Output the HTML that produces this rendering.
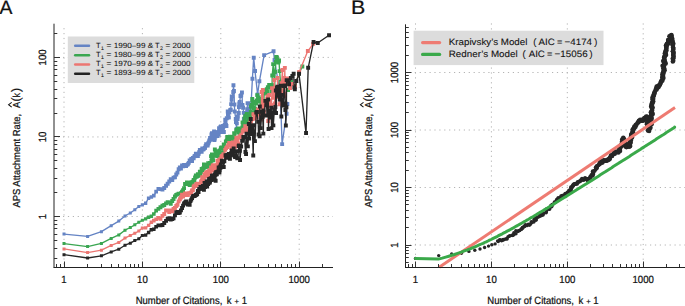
<!DOCTYPE html>
<html><head><meta charset="utf-8"><style>
html,body{margin:0;padding:0;background:#fff;width:685px;height:306px;overflow:hidden}
svg{display:block}
</style></head><body>
<svg width="685" height="306" viewBox="0 0 685 306" text-rendering="geometricPrecision">
<rect width="685" height="306" fill="#fff"/>
<line x1="64" y1="28.1" x2="64" y2="267" stroke="#b4b4b4" stroke-width="1" stroke-dasharray="1.2 3.7"/>
<line x1="415.5" y1="23.4" x2="415.5" y2="267" stroke="#b4b4b4" stroke-width="1" stroke-dasharray="1.2 3.7"/>
<line x1="142.4" y1="28.1" x2="142.4" y2="267" stroke="#b4b4b4" stroke-width="1" stroke-dasharray="1.2 3.7"/>
<line x1="491.4" y1="23.4" x2="491.4" y2="267" stroke="#b4b4b4" stroke-width="1" stroke-dasharray="1.2 3.7"/>
<line x1="220.8" y1="28.1" x2="220.8" y2="267" stroke="#b4b4b4" stroke-width="1" stroke-dasharray="1.2 3.7"/>
<line x1="567.3" y1="23.4" x2="567.3" y2="267" stroke="#b4b4b4" stroke-width="1" stroke-dasharray="1.2 3.7"/>
<line x1="299.2" y1="28.1" x2="299.2" y2="267" stroke="#b4b4b4" stroke-width="1" stroke-dasharray="1.2 3.7"/>
<line x1="643.2" y1="23.4" x2="643.2" y2="267" stroke="#b4b4b4" stroke-width="1" stroke-dasharray="1.2 3.7"/>
<line x1="58.1" y1="216.5" x2="333" y2="216.5" stroke="#b4b4b4" stroke-width="1" stroke-dasharray="1.2 3.7"/>
<line x1="58.1" y1="136.95" x2="333" y2="136.95" stroke="#b4b4b4" stroke-width="1" stroke-dasharray="1.2 3.7"/>
<line x1="58.1" y1="57.4" x2="333" y2="57.4" stroke="#b4b4b4" stroke-width="1" stroke-dasharray="1.2 3.7"/>
<line x1="405" y1="245" x2="685" y2="245" stroke="#b4b4b4" stroke-width="1" stroke-dasharray="1.2 3.7"/>
<line x1="405" y1="187.5" x2="685" y2="187.5" stroke="#b4b4b4" stroke-width="1" stroke-dasharray="1.2 3.7"/>
<line x1="405" y1="130" x2="685" y2="130" stroke="#b4b4b4" stroke-width="1" stroke-dasharray="1.2 3.7"/>
<line x1="405" y1="72.5" x2="685" y2="72.5" stroke="#b4b4b4" stroke-width="1" stroke-dasharray="1.2 3.7"/>
<polyline fill="none" stroke="#6584c4" stroke-width="1.35" stroke-linejoin="round" stroke-linecap="round" points="64,234.1 87.6,236.4 101.4,231.7 111.2,225.7 118.8,221.1 125,215.9 130.3,213 134.8,209.8 138.8,206.5 142.4,204.8 145.6,203.3 148.6,198.2 151.3,197.1 153.9,195.6 156.2,191.6 158.4,189 160.5,189.2 162.4,189.5 164.3,188 166,185.8 167.7,183.7 169.2,181.5 170.8,179.2 172.2,180.1 173.6,177.7 174.9,177.3 176.2,174.4 177.5,172.6 178.7,169.2 179.8,167.6 180.9,168.4 182,165.6 183.1,166.2 184.1,164.8 185.1,165.8 186,166.2 186.9,164.8 187.9,164.3 188.7,162.8 189.6,160.5 190.4,160.9 191.3,159 192.1,160.9 192.8,158 193.6,158.3 194.4,156.3 195.1,155.8 195.8,153.8 196.5,155.6 197.2,154.1 197.9,155.9 198.5,154.1 199.2,152.2 199.8,149.9 200.4,151.3 201.1,150.2 201.7,151.8 202.3,148.4 202.8,149.6 203.4,149.3 204,148.6 204.5,148.2 205.1,147.7 205.6,145.8 206.1,144.1 206.7,144.2 207.2,145 207.7,145.6 208.2,143.5 208.7,142.7 209.1,141.1 209.6,139.9 210.1,137.9 210.5,138.3 211,139.6 211.5,134.5 211.9,133.2 212.3,138.7 212.8,134.7 213.2,136.2 213.6,136 214,131.5 214.5,139.9 214.9,138.6 215.3,134.9 215.7,136.4 216.1,134.8 216.4,132.2 216.8,133.8 217.2,134.6 217.6,136 218,134.4 218.3,132 218.7,134.6 219.1,128.2 219.4,131.4 219.8,130.4 220.5,126.9 220.8,126.6 221.5,126.9 222,132 222.4,128.1 223.1,125.9 223.3,126.9 223.8,132 224.6,125.1 225.2,119.8 225.4,121.1 226,124.9 226.4,126 226.8,118.3 227.8,111.4 228,114 228.5,117.6 228.8,117.3 229.3,112.6 230.2,110.1 230.7,109.7 231.2,104.1 231.6,99.8 231.8,96.4 232.3,96.3 233.3,91.9 233.4,85.2 234,91.1 234.4,104.6 234.7,111.6 235.8,119.1 236,122 236.6,129.1 236.8,123.3 237.6,119 237.8,116.5 238.8,113 238.9,107.2 239.3,103.4 239.7,101.8 240.4,96.1 241.2,95.2 242,92.5 242.4,105.1 243.1,107.8 243.7,112.8 243.8,119.1 244.7,124.2 245.5,129.4 246,121.7 246,119.2 246.7,113.2 247.1,109.2 247.5,103.1 248.6,103.2 249.3,109.1 250.3,120.1 250.5,113 251,106.1 252.4,78.7 253.7,57.8 255,70.9 257.6,94.4 259.4,81.3 264.1,55.2 273.5,51.3 274.5,60 280.4,95 282.1,144.2 286.5,113.8 287.4,104"/>
<path fill="#6584c4" d="M62.5 232.6h3v3h-3zM86.1 234.9h3v3h-3zM99.9 230.2h3v3h-3zM109.7 224.2h3v3h-3zM117.3 219.6h3v3h-3zM123.5 214.4h3v3h-3zM128.8 211.5h3v3h-3zM133.3 208.3h3v3h-3zM137.3 205h3v3h-3zM140.8 203.3h3.1v3.1h-3.1zM144 201.6h3.3v3.3h-3.3zM146.9 196.5h3.4v3.4h-3.4zM149.6 195.3h3.5v3.5h-3.5zM152 193.8h3.6v3.6h-3.6zM154.3 189.7h3.7v3.7h-3.7zM156.5 187h3.8v3.8h-3.8zM158.5 187.2h3.9v3.9h-3.9zM160.5 187.6h3.9v3.9h-3.9zM162.3 186.1h3.9v3.9h-3.9zM164.1 183.8h3.9v3.9h-3.9zM165.7 181.8h3.9v3.9h-3.9zM167.3 179.5h3.9v3.9h-3.9zM168.8 177.2h3.9v3.9h-3.9zM170.3 178.1h3.9v3.9h-3.9zM171.6 175.7h3.9v3.9h-3.9zM173 175.3h3.9v3.9h-3.9zM174.3 172.5h3.9v3.9h-3.9zM175.5 170.7h3.9v3.9h-3.9zM176.7 167.3h3.9v3.9h-3.9zM177.9 165.6h3.9v3.9h-3.9zM179 166.5h3.9v3.9h-3.9zM180.1 163.6h3.9v3.9h-3.9zM181.1 164.3h3.9v3.9h-3.9zM182.1 162.9h3.9v3.9h-3.9zM183.1 163.9h3.9v3.9h-3.9zM184.1 164.2h3.9v3.9h-3.9zM185 162.9h3.9v3.9h-3.9zM185.9 162.3h3.9v3.9h-3.9zM186.8 160.9h3.9v3.9h-3.9zM187.7 158.6h3.9v3.9h-3.9zM188.5 158.9h3.9v3.9h-3.9zM189.3 157.1h3.9v3.9h-3.9zM190.1 159h3.9v3.9h-3.9zM190.9 156h3.9v3.9h-3.9zM191.7 156.3h3.9v3.9h-3.9zM192.4 154.4h3.9v3.9h-3.9zM193.1 153.9h3.9v3.9h-3.9zM193.9 151.8h3.9v3.9h-3.9zM194.6 153.6h3.9v3.9h-3.9zM195.2 152.2h3.9v3.9h-3.9zM195.9 154h3.9v3.9h-3.9zM196.6 152.1h3.9v3.9h-3.9zM197.2 150.3h3.9v3.9h-3.9zM197.9 148h3.9v3.9h-3.9zM198.5 149.4h3.9v3.9h-3.9zM199.1 148.3h3.9v3.9h-3.9zM199.7 149.8h3.9v3.9h-3.9zM200.3 146.4h3.9v3.9h-3.9zM200.9 147.7h3.9v3.9h-3.9zM201.5 147.3h3.9v3.9h-3.9zM202 146.7h3.9v3.9h-3.9zM202.6 146.2h3.9v3.9h-3.9zM203.1 145.8h3.9v3.9h-3.9zM203.7 143.9h3.9v3.9h-3.9zM204.2 142.2h3.9v3.9h-3.9zM204.7 142.3h3.9v3.9h-3.9zM205.2 143h3.9v3.9h-3.9zM205.7 143.7h3.9v3.9h-3.9zM206.2 141.5h3.9v3.9h-3.9zM206.7 140.7h3.9v3.9h-3.9zM207.2 139.2h3.9v3.9h-3.9zM207.7 138h3.9v3.9h-3.9zM208.1 135.9h3.9v3.9h-3.9zM208.6 136.3h3.9v3.9h-3.9zM209.1 137.7h3.9v3.9h-3.9zM209.5 132.6h3.9v3.9h-3.9zM210 131.3h3.9v3.9h-3.9zM210.4 136.7h3.9v3.9h-3.9zM210.8 132.7h3.9v3.9h-3.9zM211.3 134.3h3.9v3.9h-3.9zM211.7 134.1h3.9v3.9h-3.9zM212.1 129.5h3.9v3.9h-3.9zM212.5 138h3.9v3.9h-3.9zM212.9 136.6h3.9v3.9h-3.9zM213.3 133h3.9v3.9h-3.9zM213.7 134.4h3.9v3.9h-3.9zM214.1 132.9h3.9v3.9h-3.9zM214.5 130.2h3.9v3.9h-3.9zM214.9 131.8h3.9v3.9h-3.9zM215.3 132.7h3.9v3.9h-3.9zM215.6 134.1h3.9v3.9h-3.9zM216 132.5h3.9v3.9h-3.9zM216.4 130.1h3.9v3.9h-3.9zM216.7 132.6h3.9v3.9h-3.9zM217.1 126.2h3.9v3.9h-3.9zM217.5 129.5h3.9v3.9h-3.9zM217.8 128.4h3.9v3.9h-3.9zM218.5 125h3.9v3.9h-3.9zM218.9 124.6h3.9v3.9h-3.9zM219.6 124.9h3.9v3.9h-3.9zM220.1 130.1h3.9v3.9h-3.9zM220.5 126.1h3.9v3.9h-3.9zM221.1 124h3.9v3.9h-3.9zM221.4 124.9h3.9v3.9h-3.9zM221.9 130.1h3.9v3.9h-3.9zM222.7 123.1h3.9v3.9h-3.9zM223.3 117.8h3.9v3.9h-3.9zM223.4 119.2h3.9v3.9h-3.9zM224 122.9h3.9v3.9h-3.9zM224.5 124h3.9v3.9h-3.9zM224.8 116.3h3.9v3.9h-3.9zM225.8 109.5h3.9v3.9h-3.9zM226 112h3.9v3.9h-3.9zM226.5 115.7h3.9v3.9h-3.9zM226.9 115.4h3.9v3.9h-3.9zM227.4 110.6h3.9v3.9h-3.9zM228.2 108.2h3.9v3.9h-3.9zM228.8 107.8h3.9v3.9h-3.9zM229.2 102.2h3.9v3.9h-3.9zM229.7 97.8h3.9v3.9h-3.9zM229.8 94.5h3.9v3.9h-3.9zM230.4 94.4h3.9v3.9h-3.9zM231.3 90h3.9v3.9h-3.9zM231.5 83.3h3.9v3.9h-3.9zM232 89.1h3.9v3.9h-3.9zM232.5 102.6h3.9v3.9h-3.9zM232.8 109.6h3.9v3.9h-3.9zM233.8 117.1h3.9v3.9h-3.9zM234 120h3.9v3.9h-3.9zM234.7 127.1h3.9v3.9h-3.9zM234.9 121.4h3.9v3.9h-3.9zM235.6 117.1h3.9v3.9h-3.9zM235.9 114.6h3.9v3.9h-3.9zM236.8 111h3.9v3.9h-3.9zM237 105.2h3.9v3.9h-3.9zM237.3 101.5h3.9v3.9h-3.9zM237.8 99.9h3.9v3.9h-3.9zM238.5 94.1h3.9v3.9h-3.9zM239.3 93.3h3.9v3.9h-3.9zM240 90.6h3.9v3.9h-3.9zM240.5 103.1h3.9v3.9h-3.9zM241.1 105.8h3.9v3.9h-3.9zM241.8 110.9h3.9v3.9h-3.9zM241.9 117.1h3.9v3.9h-3.9zM242.8 122.3h3.9v3.9h-3.9zM243.5 127.4h3.9v3.9h-3.9zM244 119.8h3.9v3.9h-3.9zM244.1 117.3h3.9v3.9h-3.9zM244.7 111.2h3.9v3.9h-3.9zM245.2 107.3h3.9v3.9h-3.9zM245.6 101.2h3.9v3.9h-3.9zM246.6 101.2h3.9v3.9h-3.9zM247.4 107.1h3.9v3.9h-3.9zM248.3 118.2h3.9v3.9h-3.9zM248.6 111.1h3.9v3.9h-3.9zM249.1 104.1h3.9v3.9h-3.9zM250.5 76.8h3.9v3.9h-3.9zM251.8 55.8h3.9v3.9h-3.9zM253.1 69h3.9v3.9h-3.9zM255.7 92.5h3.9v3.9h-3.9zM257.4 79.3h3.9v3.9h-3.9zM262.2 53.2h3.9v3.9h-3.9zM271.6 49.3h3.9v3.9h-3.9zM272.6 58h3.9v3.9h-3.9zM278.4 93h3.9v3.9h-3.9zM280.2 142.2h3.9v3.9h-3.9zM284.6 111.8h3.9v3.9h-3.9zM285.4 102h3.9v3.9h-3.9z"/>
<polyline fill="none" stroke="#3aa651" stroke-width="1.35" stroke-linejoin="round" stroke-linecap="round" points="64,243.6 87.6,246.6 101.4,243.4 111.2,238.4 118.8,234.9 125,230.2 130.3,227.5 134.8,224.8 138.8,222.2 142.4,220.3 145.6,218.9 148.6,217.2 151.3,216.2 153.9,214 156.2,210.6 158.4,208.9 160.5,207.2 162.4,205.8 164.3,205.1 166,203.3 167.7,202.2 169.2,202.5 170.8,203.7 172.2,200.9 173.6,198.9 174.9,196.5 176.2,194.8 177.5,194.3 178.7,193.6 179.8,193.7 180.9,193.3 182,191.6 183.1,190.2 184.1,188.2 185.1,183.9 186,183.8 186.9,182.3 187.9,182.9 188.7,184 189.6,185.2 190.4,184.9 191.3,182.3 192.1,184.7 192.8,181.7 193.6,179.9 194.4,180 195.1,177.5 195.8,175.5 196.5,176.8 197.2,176.1 197.9,174.2 198.5,175.8 199.2,174.5 199.8,171.7 200.4,174.8 201.1,171.9 201.7,168.9 202.3,170.1 202.8,168.6 203.4,168.8 204,164.5 204.5,167.7 205.1,167.2 205.6,166.5 206.1,166.1 206.7,167.2 207.2,166.1 207.7,165 208.2,163.1 208.7,166.4 209.1,165.8 209.6,163.9 210.1,163 210.5,163.3 211,156.3 211.5,160.8 211.9,154.4 212.3,158.8 212.8,159.5 213.2,160.4 213.6,154.8 214,155.9 214.5,154.3 214.9,149.4 215.3,155.4 215.7,153.6 216.1,153.6 216.4,151.3 216.8,153.2 217.2,153.5 217.6,156.1 218,153.9 218.3,161.2 218.7,152.2 219.1,152.4 219.4,152.7 219.8,150.6 220.1,155.7 220.5,153.2 220.8,148.2 221.5,147.4 222.5,147.9 223.1,152.3 223.7,144.4 224.4,146.5 225.9,141.3 226.7,140.4 227.3,136.9 227.8,140.8 228.9,145.2 229.5,142.4 230,136.8 230.8,143.2 231.8,136.8 233.2,142.7 234.1,133.2 235.1,140.4 236.3,130.2 236.8,129.8 236.8,130.6 237.4,130 238.2,128.4 238.4,132.5 239.1,131.6 239.8,129.3 240.1,134 240.6,130.9 240.9,130.1 241.5,130.7 242.3,127.6 242.5,122.5 243.1,124.6 243.8,124 243.9,124.7 244.6,118.3 244.8,121 245.3,116 245.7,115.6 246.8,113.9 247,116.5 247.6,121.8 248.2,124.5 248.5,129.4 248.9,122.5 249.5,118.9 250.1,115.4 250.8,111.9 250.9,106.6 251.8,104.6 252.3,100 252.3,98.9 253.2,103.4 253.4,107.7 253.9,108.4 254.2,112.8 255,108.6 255.3,101.9 256.1,103.5 256.7,100.5 257.3,95.2 257.5,100.4 258,97.4 258.6,100.7 259,101.7 259.4,98.9 260.2,100.9 260.8,99.5 260.7,100.5 261.4,104 261.8,100.8 262.4,97.2 262.7,97.4 263.3,93 263.8,90.6 264.3,91 264.9,91.4 265.3,93 265.9,93.7 266.7,89.3 266.7,89.2 267.2,92 267.8,87.2 268.7,87.4 269.1,84.9 269.3,85.6 269.9,86.7 270.3,84.9 271.2,87.7 271.5,91.6 272.1,85.2 272.2,75.5 273.2,64.1 274.1,72.1 274.7,88.2 275.1,71.8 275.9,61.8 276.2,56.9 276.9,57.4 277.7,60.3 278.2,62.7 278.7,61.5 279,60.5 279.6,71.1 280.5,82 282,90 285,86 288,90 291,82 295,86 299,73.5 302.4,66.4"/>
<path fill="#3aa651" d="M62.5 242.1h3v3h-3zM86.1 245.1h3v3h-3zM99.9 241.9h3v3h-3zM109.7 236.9h3v3h-3zM117.3 233.4h3v3h-3zM123.5 228.7h3v3h-3zM128.8 226h3v3h-3zM133.3 223.3h3v3h-3zM137.3 220.7h3v3h-3zM140.8 218.7h3.1v3.1h-3.1zM144 217.3h3.3v3.3h-3.3zM146.9 215.5h3.4v3.4h-3.4zM149.6 214.4h3.5v3.5h-3.5zM152 212.2h3.6v3.6h-3.6zM154.3 208.7h3.7v3.7h-3.7zM156.5 207h3.8v3.8h-3.8zM158.5 205.3h3.9v3.9h-3.9zM160.5 203.8h3.9v3.9h-3.9zM162.3 203.1h3.9v3.9h-3.9zM164.1 201.4h3.9v3.9h-3.9zM165.7 200.3h3.9v3.9h-3.9zM167.3 200.5h3.9v3.9h-3.9zM168.8 201.8h3.9v3.9h-3.9zM170.3 199h3.9v3.9h-3.9zM171.6 197h3.9v3.9h-3.9zM173 194.5h3.9v3.9h-3.9zM174.3 192.9h3.9v3.9h-3.9zM175.5 192.4h3.9v3.9h-3.9zM176.7 191.7h3.9v3.9h-3.9zM177.9 191.7h3.9v3.9h-3.9zM179 191.3h3.9v3.9h-3.9zM180.1 189.7h3.9v3.9h-3.9zM181.1 188.3h3.9v3.9h-3.9zM182.1 186.2h3.9v3.9h-3.9zM183.1 182h3.9v3.9h-3.9zM184.1 181.9h3.9v3.9h-3.9zM185 180.4h3.9v3.9h-3.9zM185.9 180.9h3.9v3.9h-3.9zM186.8 182.1h3.9v3.9h-3.9zM187.7 183.2h3.9v3.9h-3.9zM188.5 182.9h3.9v3.9h-3.9zM189.3 180.3h3.9v3.9h-3.9zM190.1 182.8h3.9v3.9h-3.9zM190.9 179.8h3.9v3.9h-3.9zM191.7 178h3.9v3.9h-3.9zM192.4 178.1h3.9v3.9h-3.9zM193.1 175.5h3.9v3.9h-3.9zM193.9 173.5h3.9v3.9h-3.9zM194.6 174.9h3.9v3.9h-3.9zM195.2 174.2h3.9v3.9h-3.9zM195.9 172.2h3.9v3.9h-3.9zM196.6 173.9h3.9v3.9h-3.9zM197.2 172.5h3.9v3.9h-3.9zM197.9 169.8h3.9v3.9h-3.9zM198.5 172.8h3.9v3.9h-3.9zM199.1 169.9h3.9v3.9h-3.9zM199.7 167h3.9v3.9h-3.9zM200.3 168.2h3.9v3.9h-3.9zM200.9 166.6h3.9v3.9h-3.9zM201.5 166.9h3.9v3.9h-3.9zM202 162.5h3.9v3.9h-3.9zM202.6 165.7h3.9v3.9h-3.9zM203.1 165.2h3.9v3.9h-3.9zM203.7 164.5h3.9v3.9h-3.9zM204.2 164.2h3.9v3.9h-3.9zM204.7 165.2h3.9v3.9h-3.9zM205.2 164.1h3.9v3.9h-3.9zM205.7 163h3.9v3.9h-3.9zM206.2 161.2h3.9v3.9h-3.9zM206.7 164.4h3.9v3.9h-3.9zM207.2 163.8h3.9v3.9h-3.9zM207.7 162h3.9v3.9h-3.9zM208.1 161h3.9v3.9h-3.9zM208.6 161.4h3.9v3.9h-3.9zM209.1 154.3h3.9v3.9h-3.9zM209.5 158.9h3.9v3.9h-3.9zM210 152.4h3.9v3.9h-3.9zM210.4 156.8h3.9v3.9h-3.9zM210.8 157.6h3.9v3.9h-3.9zM211.3 158.4h3.9v3.9h-3.9zM211.7 152.8h3.9v3.9h-3.9zM212.1 153.9h3.9v3.9h-3.9zM212.5 152.4h3.9v3.9h-3.9zM212.9 147.5h3.9v3.9h-3.9zM213.3 153.4h3.9v3.9h-3.9zM213.7 151.6h3.9v3.9h-3.9zM214.1 151.6h3.9v3.9h-3.9zM214.5 149.3h3.9v3.9h-3.9zM214.9 151.3h3.9v3.9h-3.9zM215.3 151.5h3.9v3.9h-3.9zM215.6 154.2h3.9v3.9h-3.9zM216 151.9h3.9v3.9h-3.9zM216.4 159.2h3.9v3.9h-3.9zM216.7 150.2h3.9v3.9h-3.9zM217.1 150.4h3.9v3.9h-3.9zM217.5 150.7h3.9v3.9h-3.9zM217.8 148.6h3.9v3.9h-3.9zM218.2 153.8h3.9v3.9h-3.9zM218.5 151.3h3.9v3.9h-3.9zM218.9 146.2h3.9v3.9h-3.9zM219.5 145.4h3.9v3.9h-3.9zM220.5 146h3.9v3.9h-3.9zM221.2 150.4h3.9v3.9h-3.9zM221.8 142.4h3.9v3.9h-3.9zM222.4 144.6h3.9v3.9h-3.9zM223.9 139.4h3.9v3.9h-3.9zM224.8 138.5h3.9v3.9h-3.9zM225.3 135h3.9v3.9h-3.9zM225.9 138.8h3.9v3.9h-3.9zM227 143.2h3.9v3.9h-3.9zM227.5 140.4h3.9v3.9h-3.9zM228 134.8h3.9v3.9h-3.9zM228.8 141.2h3.9v3.9h-3.9zM229.8 134.9h3.9v3.9h-3.9zM231.3 140.8h3.9v3.9h-3.9zM232.2 131.2h3.9v3.9h-3.9zM233.1 138.4h3.9v3.9h-3.9zM234.3 128.3h3.9v3.9h-3.9zM234.8 127.8h3.9v3.9h-3.9zM234.9 128.6h3.9v3.9h-3.9zM235.5 128h3.9v3.9h-3.9zM236.3 126.5h3.9v3.9h-3.9zM236.4 130.6h3.9v3.9h-3.9zM237.1 129.6h3.9v3.9h-3.9zM237.8 127.4h3.9v3.9h-3.9zM238.2 132h3.9v3.9h-3.9zM238.6 129h3.9v3.9h-3.9zM238.9 128.1h3.9v3.9h-3.9zM239.6 128.8h3.9v3.9h-3.9zM240.3 125.6h3.9v3.9h-3.9zM240.6 120.5h3.9v3.9h-3.9zM241.2 122.7h3.9v3.9h-3.9zM241.8 122h3.9v3.9h-3.9zM241.9 122.8h3.9v3.9h-3.9zM242.6 116.4h3.9v3.9h-3.9zM242.8 119.1h3.9v3.9h-3.9zM243.4 114.1h3.9v3.9h-3.9zM243.8 113.7h3.9v3.9h-3.9zM244.8 112h3.9v3.9h-3.9zM245.1 114.5h3.9v3.9h-3.9zM245.6 119.9h3.9v3.9h-3.9zM246.3 122.5h3.9v3.9h-3.9zM246.6 127.4h3.9v3.9h-3.9zM246.9 120.5h3.9v3.9h-3.9zM247.5 117h3.9v3.9h-3.9zM248.2 113.4h3.9v3.9h-3.9zM248.8 109.9h3.9v3.9h-3.9zM249 104.7h3.9v3.9h-3.9zM249.8 102.7h3.9v3.9h-3.9zM250.3 98h3.9v3.9h-3.9zM250.3 96.9h3.9v3.9h-3.9zM251.3 101.4h3.9v3.9h-3.9zM251.5 105.7h3.9v3.9h-3.9zM251.9 106.4h3.9v3.9h-3.9zM252.3 110.8h3.9v3.9h-3.9zM253.1 106.7h3.9v3.9h-3.9zM253.4 100h3.9v3.9h-3.9zM254.2 101.5h3.9v3.9h-3.9zM254.7 98.5h3.9v3.9h-3.9zM255.3 93.2h3.9v3.9h-3.9zM255.5 98.4h3.9v3.9h-3.9zM256.1 95.4h3.9v3.9h-3.9zM256.7 98.7h3.9v3.9h-3.9zM257 99.7h3.9v3.9h-3.9zM257.5 96.9h3.9v3.9h-3.9zM258.2 98.9h3.9v3.9h-3.9zM258.8 97.5h3.9v3.9h-3.9zM258.8 98.6h3.9v3.9h-3.9zM259.5 102h3.9v3.9h-3.9zM259.9 98.8h3.9v3.9h-3.9zM260.4 95.2h3.9v3.9h-3.9zM260.8 95.4h3.9v3.9h-3.9zM261.3 91.1h3.9v3.9h-3.9zM261.9 88.6h3.9v3.9h-3.9zM262.4 89.1h3.9v3.9h-3.9zM262.9 89.4h3.9v3.9h-3.9zM263.4 91h3.9v3.9h-3.9zM264 91.7h3.9v3.9h-3.9zM264.8 87.3h3.9v3.9h-3.9zM264.8 87.3h3.9v3.9h-3.9zM265.3 90.1h3.9v3.9h-3.9zM265.9 85.2h3.9v3.9h-3.9zM266.7 85.5h3.9v3.9h-3.9zM267.2 82.9h3.9v3.9h-3.9zM267.4 83.6h3.9v3.9h-3.9zM267.9 84.8h3.9v3.9h-3.9zM268.3 82.9h3.9v3.9h-3.9zM269.3 85.7h3.9v3.9h-3.9zM269.5 89.6h3.9v3.9h-3.9zM270.1 83.2h3.9v3.9h-3.9zM270.3 73.5h3.9v3.9h-3.9zM271.2 62.2h3.9v3.9h-3.9zM272.1 70.1h3.9v3.9h-3.9zM272.8 86.2h3.9v3.9h-3.9zM273.1 69.9h3.9v3.9h-3.9zM274 59.9h3.9v3.9h-3.9zM274.3 55h3.9v3.9h-3.9zM275 55.5h3.9v3.9h-3.9zM275.7 58.3h3.9v3.9h-3.9zM276.3 60.7h3.9v3.9h-3.9zM276.8 59.6h3.9v3.9h-3.9zM277.1 58.5h3.9v3.9h-3.9zM277.6 69.2h3.9v3.9h-3.9zM278.6 80h3.9v3.9h-3.9zM280.1 88h3.9v3.9h-3.9zM283.1 84h3.9v3.9h-3.9zM286.1 88h3.9v3.9h-3.9zM289.1 80h3.9v3.9h-3.9zM293.1 84h3.9v3.9h-3.9zM297.1 71.5h3.9v3.9h-3.9zM300.4 64.5h3.9v3.9h-3.9z"/>
<polyline fill="none" stroke="#ec7672" stroke-width="1.35" stroke-linejoin="round" stroke-linecap="round" points="64,248.9 87.6,252.6 101.4,250.2 111.2,245.4 118.8,242.4 125,238.1 130.3,235.4 134.8,233.3 138.8,231 142.4,228 145.6,228 148.6,225.4 151.3,222.2 153.9,220.6 156.2,219.3 158.4,217.9 160.5,218.9 162.4,215.8 164.3,214 166,210.5 167.7,210.4 169.2,212.2 170.8,210.5 172.2,211.2 173.6,209.1 174.9,208 176.2,206 177.5,204.7 178.7,201.4 179.8,199.3 180.9,197.6 182,194.8 183.1,196.6 184.1,195.1 185.1,193.6 186,194.2 186.9,195.2 187.9,194.9 188.7,193.2 189.6,193.5 190.4,192.9 191.3,192.5 192.1,190.4 192.8,190.2 193.6,187 194.4,185.8 195.1,186.1 195.8,185.3 196.5,183.9 197.2,184.2 197.9,183.6 198.5,184.2 199.2,184.6 199.8,183.6 200.4,183.7 201.1,181.7 201.7,180.6 202.3,177.2 202.8,180 203.4,178.6 204,178.4 204.5,174.2 205.1,175.5 205.6,174.8 206.1,172.4 206.7,176.1 207.2,176.3 207.7,172 208.2,174.2 208.7,175.8 209.1,170.4 209.6,173.4 210.1,173.7 210.5,173.6 211,167.4 211.5,167.4 211.9,169.1 212.3,170.4 212.8,165.5 213.2,166.1 213.6,165.1 214,169 214.5,165.6 214.9,167.5 215.3,167.4 215.7,168.1 216.1,166.3 216.4,165.8 216.8,166.9 217.2,165 217.6,160.8 218,161.6 218.3,164 218.7,161.8 219.1,160.2 219.4,160.9 219.8,166.9 220.1,159.3 220.5,160 220.8,159.5 221.5,156.7 222.1,156 222.8,155.7 223.4,154.2 224.4,155.2 225.3,149.8 226.1,148.1 227,147.1 228.1,145.3 229.2,142.9 230.5,144.5 231.3,148.3 231.8,143.8 232.5,145.7 233,142.4 234.1,143.1 235.1,146.9 235.5,141.2 236.4,137.7 237,138.8 237.9,143.4 238.3,143.5 239.5,136.7 240.2,137.4 240.6,136 241.4,134.7 242.7,131.5 243.5,129.7 244.1,130.7 245.2,126.2 246.1,129.8 246.7,129.6 248,131.1 248.7,131.2 249.5,127.1 250.5,121.6 251.4,128.1 252.7,119.1 253.5,114.3 254.6,115.3 255.9,118.3 256.7,116.8 257.9,109.6 259.2,112.3 259.9,114.6 260.2,114 261.2,119.4 261.6,92 262.5,117.2 262.9,90 263.8,112 264.8,102.6 266,104.9 267.1,99.5 267.5,96.6 268.3,121.1 268.8,103.3 269.2,95.1 269.5,100.8 270.8,105 271.3,106 272.1,88.2 273.4,97.7 274,89.6 274.3,80 274.8,103.3 275.3,91.9 276,92.1 276.9,96.2 277.3,96.9 277.6,78 277.8,90.6 278.7,87.7 279.6,104.3 280.4,91.6 281.5,83.1 282.5,70 282.8,93.8 284,93.8 284.1,78 284.5,95.8 284.8,67.9 285,81 286.7,83.6 287.4,78.6 288.3,80.3 290,88 292,84 295,87 299.2,72.1 307.8,51.1 313.2,43.9"/>
<path fill="#ec7672" d="M62.5 247.4h3v3h-3zM86.1 251.1h3v3h-3zM99.9 248.7h3v3h-3zM109.7 243.9h3v3h-3zM117.3 240.9h3v3h-3zM123.5 236.6h3v3h-3zM128.8 233.9h3v3h-3zM133.3 231.8h3v3h-3zM137.3 229.5h3v3h-3zM140.8 226.4h3.1v3.1h-3.1zM144 226.3h3.3v3.3h-3.3zM146.9 223.7h3.4v3.4h-3.4zM149.6 220.4h3.5v3.5h-3.5zM152 218.8h3.6v3.6h-3.6zM154.3 217.4h3.7v3.7h-3.7zM156.5 215.9h3.8v3.8h-3.8zM158.5 216.9h3.9v3.9h-3.9zM160.5 213.9h3.9v3.9h-3.9zM162.3 212h3.9v3.9h-3.9zM164.1 208.5h3.9v3.9h-3.9zM165.7 208.4h3.9v3.9h-3.9zM167.3 210.2h3.9v3.9h-3.9zM168.8 208.5h3.9v3.9h-3.9zM170.3 209.3h3.9v3.9h-3.9zM171.6 207.1h3.9v3.9h-3.9zM173 206h3.9v3.9h-3.9zM174.3 204.1h3.9v3.9h-3.9zM175.5 202.8h3.9v3.9h-3.9zM176.7 199.4h3.9v3.9h-3.9zM177.9 197.3h3.9v3.9h-3.9zM179 195.6h3.9v3.9h-3.9zM180.1 192.8h3.9v3.9h-3.9zM181.1 194.6h3.9v3.9h-3.9zM182.1 193.1h3.9v3.9h-3.9zM183.1 191.6h3.9v3.9h-3.9zM184.1 192.3h3.9v3.9h-3.9zM185 193.2h3.9v3.9h-3.9zM185.9 193h3.9v3.9h-3.9zM186.8 191.2h3.9v3.9h-3.9zM187.7 191.5h3.9v3.9h-3.9zM188.5 190.9h3.9v3.9h-3.9zM189.3 190.6h3.9v3.9h-3.9zM190.1 188.4h3.9v3.9h-3.9zM190.9 188.2h3.9v3.9h-3.9zM191.7 185.1h3.9v3.9h-3.9zM192.4 183.8h3.9v3.9h-3.9zM193.1 184.1h3.9v3.9h-3.9zM193.9 183.4h3.9v3.9h-3.9zM194.6 181.9h3.9v3.9h-3.9zM195.2 182.3h3.9v3.9h-3.9zM195.9 181.7h3.9v3.9h-3.9zM196.6 182.2h3.9v3.9h-3.9zM197.2 182.6h3.9v3.9h-3.9zM197.9 181.7h3.9v3.9h-3.9zM198.5 181.8h3.9v3.9h-3.9zM199.1 179.7h3.9v3.9h-3.9zM199.7 178.7h3.9v3.9h-3.9zM200.3 175.3h3.9v3.9h-3.9zM200.9 178.1h3.9v3.9h-3.9zM201.5 176.6h3.9v3.9h-3.9zM202 176.5h3.9v3.9h-3.9zM202.6 172.3h3.9v3.9h-3.9zM203.1 173.6h3.9v3.9h-3.9zM203.7 172.9h3.9v3.9h-3.9zM204.2 170.4h3.9v3.9h-3.9zM204.7 174.2h3.9v3.9h-3.9zM205.2 174.4h3.9v3.9h-3.9zM205.7 170h3.9v3.9h-3.9zM206.2 172.3h3.9v3.9h-3.9zM206.7 173.8h3.9v3.9h-3.9zM207.2 168.4h3.9v3.9h-3.9zM207.7 171.4h3.9v3.9h-3.9zM208.1 171.8h3.9v3.9h-3.9zM208.6 171.7h3.9v3.9h-3.9zM209.1 165.5h3.9v3.9h-3.9zM209.5 165.4h3.9v3.9h-3.9zM210 167.1h3.9v3.9h-3.9zM210.4 168.4h3.9v3.9h-3.9zM210.8 163.6h3.9v3.9h-3.9zM211.3 164.2h3.9v3.9h-3.9zM211.7 163.2h3.9v3.9h-3.9zM212.1 167.1h3.9v3.9h-3.9zM212.5 163.7h3.9v3.9h-3.9zM212.9 165.6h3.9v3.9h-3.9zM213.3 165.5h3.9v3.9h-3.9zM213.7 166.2h3.9v3.9h-3.9zM214.1 164.4h3.9v3.9h-3.9zM214.5 163.8h3.9v3.9h-3.9zM214.9 165h3.9v3.9h-3.9zM215.3 163h3.9v3.9h-3.9zM215.6 158.8h3.9v3.9h-3.9zM216 159.7h3.9v3.9h-3.9zM216.4 162h3.9v3.9h-3.9zM216.7 159.8h3.9v3.9h-3.9zM217.1 158.2h3.9v3.9h-3.9zM217.5 158.9h3.9v3.9h-3.9zM217.8 165h3.9v3.9h-3.9zM218.2 157.3h3.9v3.9h-3.9zM218.5 158h3.9v3.9h-3.9zM218.9 157.5h3.9v3.9h-3.9zM219.5 154.7h3.9v3.9h-3.9zM220.2 154h3.9v3.9h-3.9zM220.8 153.7h3.9v3.9h-3.9zM221.5 152.3h3.9v3.9h-3.9zM222.4 153.2h3.9v3.9h-3.9zM223.3 147.9h3.9v3.9h-3.9zM224.2 146.2h3.9v3.9h-3.9zM225.1 145.2h3.9v3.9h-3.9zM226.2 143.3h3.9v3.9h-3.9zM227.3 141h3.9v3.9h-3.9zM228.6 142.6h3.9v3.9h-3.9zM229.3 146.3h3.9v3.9h-3.9zM229.8 141.9h3.9v3.9h-3.9zM230.5 143.8h3.9v3.9h-3.9zM231 140.5h3.9v3.9h-3.9zM232.2 141.2h3.9v3.9h-3.9zM233.1 144.9h3.9v3.9h-3.9zM233.6 139.3h3.9v3.9h-3.9zM234.4 135.7h3.9v3.9h-3.9zM235.1 136.9h3.9v3.9h-3.9zM235.9 141.4h3.9v3.9h-3.9zM236.3 141.6h3.9v3.9h-3.9zM237.5 134.7h3.9v3.9h-3.9zM238.3 135.5h3.9v3.9h-3.9zM238.7 134.1h3.9v3.9h-3.9zM239.4 132.7h3.9v3.9h-3.9zM240.7 129.5h3.9v3.9h-3.9zM241.6 127.7h3.9v3.9h-3.9zM242.1 128.8h3.9v3.9h-3.9zM243.3 124.3h3.9v3.9h-3.9zM244.1 127.8h3.9v3.9h-3.9zM244.8 127.6h3.9v3.9h-3.9zM246 129.1h3.9v3.9h-3.9zM246.8 129.3h3.9v3.9h-3.9zM247.5 125.1h3.9v3.9h-3.9zM248.5 119.6h3.9v3.9h-3.9zM249.5 126.2h3.9v3.9h-3.9zM250.7 117.2h3.9v3.9h-3.9zM251.5 112.3h3.9v3.9h-3.9zM252.7 113.4h3.9v3.9h-3.9zM253.9 116.4h3.9v3.9h-3.9zM254.7 114.9h3.9v3.9h-3.9zM255.9 107.6h3.9v3.9h-3.9zM257.3 110.3h3.9v3.9h-3.9zM257.9 112.6h3.9v3.9h-3.9zM258.2 112h3.9v3.9h-3.9zM259.3 117.5h3.9v3.9h-3.9zM259.7 90h3.9v3.9h-3.9zM260.5 115.3h3.9v3.9h-3.9zM260.9 88h3.9v3.9h-3.9zM261.9 110h3.9v3.9h-3.9zM262.8 100.6h3.9v3.9h-3.9zM264 102.9h3.9v3.9h-3.9zM265.1 97.5h3.9v3.9h-3.9zM265.5 94.6h3.9v3.9h-3.9zM266.3 119.1h3.9v3.9h-3.9zM266.9 101.4h3.9v3.9h-3.9zM267.2 93.1h3.9v3.9h-3.9zM267.6 98.8h3.9v3.9h-3.9zM268.8 103h3.9v3.9h-3.9zM269.4 104h3.9v3.9h-3.9zM270.1 86.2h3.9v3.9h-3.9zM271.5 95.8h3.9v3.9h-3.9zM272 87.6h3.9v3.9h-3.9zM272.4 78h3.9v3.9h-3.9zM272.8 101.4h3.9v3.9h-3.9zM273.4 90h3.9v3.9h-3.9zM274.1 90.1h3.9v3.9h-3.9zM275 94.3h3.9v3.9h-3.9zM275.4 95h3.9v3.9h-3.9zM275.7 76h3.9v3.9h-3.9zM275.8 88.7h3.9v3.9h-3.9zM276.8 85.7h3.9v3.9h-3.9zM277.6 102.3h3.9v3.9h-3.9zM278.5 89.7h3.9v3.9h-3.9zM279.6 81.2h3.9v3.9h-3.9zM280.5 68.1h3.9v3.9h-3.9zM280.9 91.9h3.9v3.9h-3.9zM282.1 91.8h3.9v3.9h-3.9zM282.2 76h3.9v3.9h-3.9zM282.5 93.8h3.9v3.9h-3.9zM282.9 65.9h3.9v3.9h-3.9zM283.1 79h3.9v3.9h-3.9zM284.8 81.6h3.9v3.9h-3.9zM285.4 76.6h3.9v3.9h-3.9zM286.4 78.3h3.9v3.9h-3.9zM288.1 86h3.9v3.9h-3.9zM290.1 82h3.9v3.9h-3.9zM293.1 85h3.9v3.9h-3.9zM297.2 70.1h3.9v3.9h-3.9zM305.9 49.1h3.9v3.9h-3.9zM311.2 41.9h3.9v3.9h-3.9z"/>
<polyline fill="none" stroke="#262626" stroke-width="1.35" stroke-linejoin="round" stroke-linecap="round" points="64,254.7 87.6,258 101.4,255.8 111.2,251.9 118.8,249.2 125,245.2 130.3,243.2 134.8,240.6 138.8,238.8 142.4,235.5 145.6,235.1 148.6,232.5 151.3,229.6 153.9,229.3 156.2,226.8 158.4,225.4 160.5,225.3 162.4,225 164.3,223 166,220.9 167.7,219 169.2,218.3 170.8,219.4 172.2,219 173.6,218.4 174.9,215.3 176.2,212.4 177.5,212.1 178.7,213.1 179.8,212.6 180.9,210.4 182,208 183.1,205.7 184.1,203.4 185.1,202.4 186,201.3 186.9,203.4 187.9,204.7 188.7,204.2 189.6,204.8 190.4,201.2 191.3,199.6 192.1,198.1 192.8,196.3 193.6,196 194.4,196 195.1,195.7 195.8,194.9 196.5,194.5 197.2,194.1 197.9,190.9 198.5,192.1 199.2,188.9 199.8,189.2 200.4,187 201.1,188.5 201.7,187.1 202.3,187 202.8,185.9 203.4,187.3 204,189.9 204.5,183 205.1,187 205.6,185.9 206.1,184 206.7,181.4 207.2,186.7 207.7,182.9 208.2,184.2 208.7,180.5 209.1,179.1 209.6,182.8 210.1,181.5 210.5,178.5 211,178.3 211.5,179.9 211.9,176 212.3,175.6 212.8,177.2 213.2,179.6 213.6,179 214,176.9 214.5,179.5 214.9,175 215.3,173.5 215.7,180.7 216.1,172.3 216.4,174.7 216.8,173.9 217.2,172 217.6,171.6 218,172.4 218.3,171.4 218.7,167.5 219.1,168.8 219.4,172.5 219.8,170.2 220.1,166.5 220.5,167.8 220.8,164.4 221.8,160.6 222.8,161.9 223.7,167 224.4,161.3 225.6,155.2 226.1,157.8 227.3,154.9 228.7,153.9 229.5,154 230,158.8 230.5,154.8 231,153.1 231.8,150.4 233,151.9 233.7,148.4 234.1,155.4 234.6,155.9 235.1,157.2 236.2,151.2 237.2,158.3 237.9,158.1 238.7,146.1 239.1,145.3 239.9,150.9 240,160 241.2,146.6 242.1,140.8 243.4,136.9 244.6,137.2 245.4,152 246,154 246.5,133.8 247.8,146.4 248.4,138.4 248.9,123.9 249.2,138.6 249.9,131.9 250.8,118.9 251.3,134.2 252.3,125.6 253.2,155.6 253.7,125.3 255,141.1 256.2,112.5 256.9,112.1 258.2,121.9 258.5,134.6 259.7,136.3 259.8,106.6 260.7,128.1 261.9,111.7 262.7,116.7 263.4,133.6 263.5,110.4 264.3,115.5 265.3,100.8 266.6,105.2 267,115.5 267,104.8 268.2,99.5 268.5,129.1 269,111.9 269.5,111.1 270.1,117.6 271.2,107.8 271.5,128.2 272.5,112.4 273.3,125.4 274.4,109.5 275.3,107.1 275.9,90.5 276,113 276.9,87.7 277.5,86.7 278.2,95.7 279.1,87 279.2,92.5 279.9,99.6 280.7,85.8 281.3,116.5 281.9,94.8 282.8,105.6 283.3,103.9 284.1,86 284.5,85.4 285.4,110 285.4,103.5 285.8,125.5 286.4,107.3 286.6,80.2 287.7,80.3 289,84.3 290.8,77.9 292.3,76.1 293.6,73.7 294.3,87.6 294.9,89.3 296.4,81 299,73.8 306,132.9 308.2,67.8 313.5,42.1 317.7,43 329,35.3"/>
<path fill="#262626" d="M62.5 253.2h3v3h-3zM86.1 256.5h3v3h-3zM99.9 254.3h3v3h-3zM109.7 250.4h3v3h-3zM117.3 247.7h3v3h-3zM123.5 243.7h3v3h-3zM128.8 241.7h3v3h-3zM133.3 239.1h3v3h-3zM137.3 237.3h3v3h-3zM140.8 233.9h3.1v3.1h-3.1zM144 233.5h3.3v3.3h-3.3zM146.9 230.8h3.4v3.4h-3.4zM149.6 227.9h3.5v3.5h-3.5zM152 227.4h3.6v3.6h-3.6zM154.3 224.9h3.7v3.7h-3.7zM156.5 223.5h3.8v3.8h-3.8zM158.5 223.4h3.9v3.9h-3.9zM160.5 223h3.9v3.9h-3.9zM162.3 221h3.9v3.9h-3.9zM164.1 218.9h3.9v3.9h-3.9zM165.7 217h3.9v3.9h-3.9zM167.3 216.3h3.9v3.9h-3.9zM168.8 217.5h3.9v3.9h-3.9zM170.3 217h3.9v3.9h-3.9zM171.6 216.4h3.9v3.9h-3.9zM173 213.4h3.9v3.9h-3.9zM174.3 210.5h3.9v3.9h-3.9zM175.5 210.1h3.9v3.9h-3.9zM176.7 211.2h3.9v3.9h-3.9zM177.9 210.7h3.9v3.9h-3.9zM179 208.4h3.9v3.9h-3.9zM180.1 206h3.9v3.9h-3.9zM181.1 203.7h3.9v3.9h-3.9zM182.1 201.5h3.9v3.9h-3.9zM183.1 200.5h3.9v3.9h-3.9zM184.1 199.4h3.9v3.9h-3.9zM185 201.4h3.9v3.9h-3.9zM185.9 202.7h3.9v3.9h-3.9zM186.8 202.2h3.9v3.9h-3.9zM187.7 202.8h3.9v3.9h-3.9zM188.5 199.2h3.9v3.9h-3.9zM189.3 197.7h3.9v3.9h-3.9zM190.1 196.2h3.9v3.9h-3.9zM190.9 194.4h3.9v3.9h-3.9zM191.7 194.1h3.9v3.9h-3.9zM192.4 194h3.9v3.9h-3.9zM193.1 193.7h3.9v3.9h-3.9zM193.9 193h3.9v3.9h-3.9zM194.6 192.6h3.9v3.9h-3.9zM195.2 192.2h3.9v3.9h-3.9zM195.9 188.9h3.9v3.9h-3.9zM196.6 190.2h3.9v3.9h-3.9zM197.2 187h3.9v3.9h-3.9zM197.9 187.2h3.9v3.9h-3.9zM198.5 185.1h3.9v3.9h-3.9zM199.1 186.5h3.9v3.9h-3.9zM199.7 185.2h3.9v3.9h-3.9zM200.3 185.1h3.9v3.9h-3.9zM200.9 184h3.9v3.9h-3.9zM201.5 185.4h3.9v3.9h-3.9zM202 187.9h3.9v3.9h-3.9zM202.6 181h3.9v3.9h-3.9zM203.1 185.1h3.9v3.9h-3.9zM203.7 184h3.9v3.9h-3.9zM204.2 182.1h3.9v3.9h-3.9zM204.7 179.4h3.9v3.9h-3.9zM205.2 184.7h3.9v3.9h-3.9zM205.7 181h3.9v3.9h-3.9zM206.2 182.2h3.9v3.9h-3.9zM206.7 178.6h3.9v3.9h-3.9zM207.2 177.1h3.9v3.9h-3.9zM207.7 180.8h3.9v3.9h-3.9zM208.1 179.5h3.9v3.9h-3.9zM208.6 176.6h3.9v3.9h-3.9zM209.1 176.3h3.9v3.9h-3.9zM209.5 178h3.9v3.9h-3.9zM210 174.1h3.9v3.9h-3.9zM210.4 173.6h3.9v3.9h-3.9zM210.8 175.3h3.9v3.9h-3.9zM211.3 177.7h3.9v3.9h-3.9zM211.7 177h3.9v3.9h-3.9zM212.1 175h3.9v3.9h-3.9zM212.5 177.6h3.9v3.9h-3.9zM212.9 173.1h3.9v3.9h-3.9zM213.3 171.6h3.9v3.9h-3.9zM213.7 178.8h3.9v3.9h-3.9zM214.1 170.3h3.9v3.9h-3.9zM214.5 172.7h3.9v3.9h-3.9zM214.9 172h3.9v3.9h-3.9zM215.3 170.1h3.9v3.9h-3.9zM215.6 169.7h3.9v3.9h-3.9zM216 170.4h3.9v3.9h-3.9zM216.4 169.4h3.9v3.9h-3.9zM216.7 165.5h3.9v3.9h-3.9zM217.1 166.8h3.9v3.9h-3.9zM217.5 170.6h3.9v3.9h-3.9zM217.8 168.3h3.9v3.9h-3.9zM218.2 164.5h3.9v3.9h-3.9zM218.5 165.8h3.9v3.9h-3.9zM218.9 162.4h3.9v3.9h-3.9zM219.9 158.7h3.9v3.9h-3.9zM220.8 160h3.9v3.9h-3.9zM221.8 165.1h3.9v3.9h-3.9zM222.4 159.4h3.9v3.9h-3.9zM223.6 153.3h3.9v3.9h-3.9zM224.2 155.8h3.9v3.9h-3.9zM225.3 153h3.9v3.9h-3.9zM226.7 152h3.9v3.9h-3.9zM227.5 152.1h3.9v3.9h-3.9zM228 156.8h3.9v3.9h-3.9zM228.6 152.9h3.9v3.9h-3.9zM229.1 151.2h3.9v3.9h-3.9zM229.8 148.4h3.9v3.9h-3.9zM231 149.9h3.9v3.9h-3.9zM231.7 146.4h3.9v3.9h-3.9zM232.2 153.4h3.9v3.9h-3.9zM232.7 153.9h3.9v3.9h-3.9zM233.1 155.2h3.9v3.9h-3.9zM234.2 149.2h3.9v3.9h-3.9zM235.3 156.3h3.9v3.9h-3.9zM235.9 156.2h3.9v3.9h-3.9zM236.7 144.2h3.9v3.9h-3.9zM237.1 143.4h3.9v3.9h-3.9zM237.9 148.9h3.9v3.9h-3.9zM238.1 158.1h3.9v3.9h-3.9zM239.2 144.6h3.9v3.9h-3.9zM240.2 138.9h3.9v3.9h-3.9zM241.4 135h3.9v3.9h-3.9zM242.6 135.3h3.9v3.9h-3.9zM243.5 150h3.9v3.9h-3.9zM244.1 152.1h3.9v3.9h-3.9zM244.6 131.8h3.9v3.9h-3.9zM245.9 144.4h3.9v3.9h-3.9zM246.5 136.5h3.9v3.9h-3.9zM246.9 122h3.9v3.9h-3.9zM247.2 136.6h3.9v3.9h-3.9zM247.9 129.9h3.9v3.9h-3.9zM248.8 117h3.9v3.9h-3.9zM249.4 132.2h3.9v3.9h-3.9zM250.3 123.7h3.9v3.9h-3.9zM251.3 153.6h3.9v3.9h-3.9zM251.8 123.3h3.9v3.9h-3.9zM253 139.2h3.9v3.9h-3.9zM254.3 110.5h3.9v3.9h-3.9zM255 110.1h3.9v3.9h-3.9zM256.3 119.9h3.9v3.9h-3.9zM256.6 132.6h3.9v3.9h-3.9zM257.7 134.3h3.9v3.9h-3.9zM257.9 104.6h3.9v3.9h-3.9zM258.8 126.2h3.9v3.9h-3.9zM259.9 109.8h3.9v3.9h-3.9zM260.7 114.8h3.9v3.9h-3.9zM261.4 131.7h3.9v3.9h-3.9zM261.5 108.4h3.9v3.9h-3.9zM262.4 113.5h3.9v3.9h-3.9zM263.4 98.9h3.9v3.9h-3.9zM264.7 103.3h3.9v3.9h-3.9zM265 113.5h3.9v3.9h-3.9zM265.1 102.8h3.9v3.9h-3.9zM266.2 97.5h3.9v3.9h-3.9zM266.6 127.1h3.9v3.9h-3.9zM267.1 109.9h3.9v3.9h-3.9zM267.6 109.1h3.9v3.9h-3.9zM268.1 115.6h3.9v3.9h-3.9zM269.3 105.8h3.9v3.9h-3.9zM269.6 126.2h3.9v3.9h-3.9zM270.5 110.5h3.9v3.9h-3.9zM271.4 123.4h3.9v3.9h-3.9zM272.4 107.5h3.9v3.9h-3.9zM273.4 105.1h3.9v3.9h-3.9zM273.9 88.6h3.9v3.9h-3.9zM274.1 111h3.9v3.9h-3.9zM275 85.7h3.9v3.9h-3.9zM275.5 84.8h3.9v3.9h-3.9zM276.2 93.8h3.9v3.9h-3.9zM277.1 85h3.9v3.9h-3.9zM277.2 90.5h3.9v3.9h-3.9zM277.9 97.7h3.9v3.9h-3.9zM278.8 83.8h3.9v3.9h-3.9zM279.4 114.5h3.9v3.9h-3.9zM279.9 92.9h3.9v3.9h-3.9zM280.9 103.7h3.9v3.9h-3.9zM281.4 102h3.9v3.9h-3.9zM282.2 84h3.9v3.9h-3.9zM282.6 83.4h3.9v3.9h-3.9zM283.4 108h3.9v3.9h-3.9zM283.5 101.5h3.9v3.9h-3.9zM283.9 123.5h3.9v3.9h-3.9zM284.5 105.3h3.9v3.9h-3.9zM284.7 78.2h3.9v3.9h-3.9zM285.8 78.3h3.9v3.9h-3.9zM287.1 82.3h3.9v3.9h-3.9zM288.9 76h3.9v3.9h-3.9zM290.4 74.1h3.9v3.9h-3.9zM291.7 71.8h3.9v3.9h-3.9zM292.4 85.6h3.9v3.9h-3.9zM292.9 87.3h3.9v3.9h-3.9zM294.4 79h3.9v3.9h-3.9zM297.1 71.8h3.9v3.9h-3.9zM304.1 131h3.9v3.9h-3.9zM306.2 65.8h3.9v3.9h-3.9zM311.6 40.1h3.9v3.9h-3.9zM315.8 41h3.9v3.9h-3.9zM327.1 33.3h3.9v3.9h-3.9z"/>
<circle cx="415.5" cy="258.4" r="1.7" fill="#262626"/><circle cx="438.7" cy="255.6" r="1.7" fill="#262626"/><circle cx="451.7" cy="253.9" r="1.7" fill="#262626"/><circle cx="461.4" cy="253.3" r="1.7" fill="#262626"/><circle cx="468.9" cy="251.4" r="1.7" fill="#262626"/><circle cx="474.8" cy="250.3" r="1.7" fill="#262626"/><circle cx="480" cy="249" r="1.7" fill="#262626"/><circle cx="484.6" cy="247.5" r="1.7" fill="#262626"/><circle cx="488.5" cy="246.1" r="1.7" fill="#262626"/><circle cx="491.8" cy="244.8" r="1.7" fill="#262626"/><circle cx="495.1" cy="243.9" r="1.7" fill="#262626"/><circle cx="498.3" cy="241.6" r="1.7" fill="#262626"/>
<g fill="#262626"><circle cx="497.7" cy="241" r="1.8"/><circle cx="499.6" cy="240" r="1.8"/><circle cx="500" cy="239.7" r="1.8"/><circle cx="501.6" cy="240.7" r="1.8"/><circle cx="502.7" cy="239.9" r="1.8"/><circle cx="503.2" cy="239.6" r="1.8"/><circle cx="503.8" cy="239.7" r="1.8"/><circle cx="504.8" cy="239.2" r="1.8"/><circle cx="506.7" cy="238.6" r="1.8"/><circle cx="507" cy="239" r="1.8"/><circle cx="508.1" cy="236.7" r="1.8"/><circle cx="509.2" cy="236.2" r="1.8"/><circle cx="509.8" cy="235.8" r="1.8"/><circle cx="512.1" cy="235.5" r="1.8"/><circle cx="512" cy="235.3" r="1.8"/><circle cx="514" cy="234.2" r="1.8"/><circle cx="513.4" cy="235.1" r="1.8"/><circle cx="513.9" cy="232.9" r="1.8"/><circle cx="515.9" cy="233.8" r="1.8"/><circle cx="515.9" cy="230.7" r="1.8"/><circle cx="517.7" cy="231.2" r="1.8"/><circle cx="518" cy="231.2" r="1.8"/><circle cx="519.2" cy="230.5" r="1.8"/><circle cx="519.7" cy="230.5" r="1.8"/><circle cx="521.5" cy="229.3" r="1.8"/><circle cx="521.2" cy="229.1" r="1.8"/><circle cx="522.5" cy="227.6" r="1.8"/><circle cx="522.7" cy="228.1" r="1.8"/><circle cx="523.7" cy="226.8" r="1.8"/><circle cx="524.6" cy="226.4" r="1.8"/><circle cx="525.3" cy="224.8" r="1.8"/><circle cx="527.2" cy="225.5" r="1.8"/><circle cx="526.7" cy="225.4" r="1.8"/><circle cx="528.3" cy="224.3" r="1.8"/><circle cx="529.6" cy="225.1" r="1.8"/><circle cx="530.3" cy="224.2" r="1.8"/><circle cx="532" cy="222.2" r="1.8"/><circle cx="531.3" cy="222.7" r="1.8"/><circle cx="531.4" cy="221.7" r="1.8"/><circle cx="533.8" cy="221.9" r="1.8"/><circle cx="534.1" cy="219.6" r="1.8"/><circle cx="535.9" cy="220.3" r="1.8"/><circle cx="535.7" cy="219.6" r="1.8"/><circle cx="535.1" cy="217.9" r="1.8"/><circle cx="536.1" cy="219.1" r="1.8"/><circle cx="537" cy="217.3" r="1.8"/><circle cx="538.1" cy="217.1" r="1.8"/><circle cx="539.5" cy="216.5" r="1.8"/><circle cx="539.6" cy="214.2" r="1.8"/><circle cx="541.4" cy="215.6" r="1.8"/><circle cx="543" cy="214.9" r="1.8"/><circle cx="542.6" cy="214.6" r="1.8"/><circle cx="542.8" cy="213.1" r="1.8"/><circle cx="543.7" cy="213.2" r="1.8"/><circle cx="546.1" cy="212.8" r="1.8"/><circle cx="546.3" cy="211.8" r="1.8"/><circle cx="546.5" cy="210.8" r="1.8"/><circle cx="546.8" cy="209" r="1.8"/><circle cx="547" cy="208.9" r="1.8"/><circle cx="548.9" cy="209.3" r="1.8"/><circle cx="549.7" cy="209.1" r="1.8"/><circle cx="549.6" cy="208.1" r="1.8"/><circle cx="551.6" cy="206.8" r="1.8"/><circle cx="551.8" cy="206" r="1.8"/><circle cx="550.9" cy="205.5" r="1.8"/><circle cx="552" cy="204.8" r="1.8"/><circle cx="552.8" cy="204.2" r="1.8"/><circle cx="552.6" cy="204.5" r="1.8"/><circle cx="555.1" cy="202.5" r="1.8"/><circle cx="554.5" cy="202" r="1.8"/><circle cx="556.1" cy="201.6" r="1.8"/><circle cx="556.7" cy="199.6" r="1.8"/><circle cx="556.6" cy="200.7" r="1.8"/><circle cx="558.1" cy="198.5" r="1.8"/><circle cx="558.2" cy="197.9" r="1.8"/><circle cx="558.8" cy="198.6" r="1.8"/><circle cx="560.1" cy="198.2" r="2"/><circle cx="561.1" cy="196.3" r="2"/><circle cx="561.5" cy="198" r="2"/><circle cx="562.2" cy="195.7" r="2"/><circle cx="564.2" cy="196" r="2"/><circle cx="564.3" cy="196.3" r="2"/><circle cx="564.1" cy="195.2" r="2"/><circle cx="565.3" cy="193.7" r="2"/><circle cx="566.3" cy="194.6" r="2"/><circle cx="567.5" cy="192.5" r="2"/><circle cx="567.8" cy="193.9" r="2"/><circle cx="569.8" cy="191.9" r="2"/><circle cx="570.8" cy="191.3" r="2"/><circle cx="569.1" cy="190.4" r="2"/><circle cx="570.5" cy="190.3" r="2"/><circle cx="571.3" cy="188.5" r="2"/><circle cx="571" cy="187.2" r="2"/><circle cx="572" cy="187" r="2"/><circle cx="572.8" cy="186" r="2"/><circle cx="573.1" cy="185.5" r="2"/><circle cx="573.4" cy="184.7" r="2"/><circle cx="574.2" cy="184" r="2"/><circle cx="575.7" cy="184.1" r="2"/><circle cx="575.4" cy="183.8" r="2"/><circle cx="577.1" cy="183.8" r="2"/><circle cx="577.6" cy="182.3" r="2"/><circle cx="578.1" cy="182" r="2"/><circle cx="579.5" cy="181.5" r="2"/><circle cx="579.9" cy="181.2" r="2"/><circle cx="580.9" cy="180.5" r="2"/><circle cx="581.2" cy="180" r="2"/><circle cx="582" cy="178.8" r="2"/><circle cx="583.6" cy="180" r="2"/><circle cx="585" cy="178.2" r="2"/><circle cx="585.2" cy="178.3" r="2"/><circle cx="586.8" cy="179.1" r="2"/><circle cx="586.5" cy="179.2" r="2"/><circle cx="587.1" cy="179.6" r="2"/><circle cx="587.5" cy="180.3" r="2"/><circle cx="587.4" cy="179.1" r="2"/><circle cx="589.5" cy="178.5" r="2"/><circle cx="590.3" cy="177.6" r="2"/><circle cx="590.4" cy="177.9" r="2"/><circle cx="590.4" cy="176.5" r="2"/><circle cx="592.8" cy="175.7" r="2"/><circle cx="591.5" cy="174.9" r="2"/><circle cx="592.3" cy="174.4" r="2"/><circle cx="593.3" cy="174.1" r="2"/><circle cx="592.9" cy="172.6" r="2"/><circle cx="592.8" cy="171.2" r="2"/><circle cx="593.7" cy="171.5" r="2"/><circle cx="594.7" cy="170.7" r="2"/><circle cx="595.7" cy="169.3" r="2"/><circle cx="596.8" cy="168.2" r="2"/><circle cx="595.8" cy="167.3" r="2"/><circle cx="597.3" cy="166.6" r="2"/><circle cx="596.8" cy="166" r="2"/><circle cx="598.6" cy="165" r="2"/><circle cx="598.5" cy="165" r="2"/><circle cx="599.9" cy="164.2" r="2"/><circle cx="599.7" cy="163.1" r="2.3"/><circle cx="601" cy="161.2" r="2.3"/><circle cx="602.4" cy="161.8" r="2.3"/><circle cx="602.4" cy="162.6" r="2.3"/><circle cx="603.6" cy="160.4" r="2.3"/><circle cx="604.4" cy="160.7" r="2.3"/><circle cx="605.7" cy="160.7" r="2.3"/><circle cx="605.6" cy="160.6" r="2.3"/><circle cx="606.5" cy="160.7" r="2.3"/><circle cx="607.7" cy="160.3" r="2.3"/><circle cx="608.4" cy="159.5" r="2.3"/><circle cx="608.5" cy="159.2" r="2.3"/><circle cx="609.5" cy="159.2" r="2.3"/><circle cx="609.9" cy="157.8" r="2.3"/><circle cx="611" cy="156.1" r="2.3"/><circle cx="612.1" cy="156" r="2.3"/><circle cx="611.2" cy="155.3" r="2.3"/><circle cx="613.6" cy="153.9" r="2.3"/><circle cx="614.7" cy="153.7" r="2.3"/><circle cx="613.8" cy="153.3" r="2.3"/><circle cx="614.9" cy="151.5" r="2.3"/><circle cx="614.8" cy="152.2" r="2.3"/><circle cx="616.5" cy="152.2" r="2.3"/><circle cx="618" cy="151.3" r="2.3"/><circle cx="618.4" cy="152.4" r="2.3"/><circle cx="620" cy="150.9" r="2.3"/><circle cx="619.3" cy="149" r="2.3"/><circle cx="619.6" cy="149.6" r="2.3"/><circle cx="620.5" cy="147.6" r="2.3"/><circle cx="619.9" cy="147" r="2.3"/><circle cx="620.5" cy="146" r="2.3"/><circle cx="621.8" cy="145.7" r="2.3"/><circle cx="621.6" cy="144" r="2.3"/><circle cx="621.8" cy="144.3" r="2.3"/><circle cx="622.1" cy="141.6" r="2.3"/><circle cx="622.9" cy="141.6" r="2.3"/><circle cx="624.1" cy="140.3" r="2.3"/><circle cx="622.2" cy="139.5" r="2.3"/><circle cx="623.4" cy="139" r="2.3"/><circle cx="623.3" cy="137.8" r="2.3"/><circle cx="624.2" cy="139.5" r="2.3"/><circle cx="624.2" cy="141.9" r="2.3"/><circle cx="625.1" cy="142.2" r="2.3"/><circle cx="624.6" cy="142.6" r="2.3"/><circle cx="625" cy="143.2" r="2.3"/><circle cx="625.7" cy="144.6" r="2.3"/><circle cx="625.7" cy="145.2" r="2.3"/><circle cx="624.9" cy="145.6" r="2.3"/><circle cx="626.1" cy="146.7" r="2.3"/><circle cx="626.4" cy="147.1" r="2.3"/><circle cx="627.2" cy="146.5" r="2.3"/><circle cx="629.1" cy="146.7" r="2.3"/><circle cx="629.9" cy="146.3" r="2.3"/><circle cx="630" cy="145.7" r="2.3"/><circle cx="628.8" cy="144.2" r="2.3"/><circle cx="629.4" cy="143" r="2.3"/><circle cx="630.3" cy="143.1" r="2.3"/><circle cx="630.5" cy="142.4" r="2.3"/><circle cx="630.3" cy="140.5" r="2.3"/><circle cx="630.8" cy="140.2" r="2.3"/><circle cx="630.9" cy="138.4" r="2.3"/><circle cx="630.9" cy="137.1" r="2.3"/><circle cx="632" cy="137.4" r="2.3"/><circle cx="631.7" cy="136.2" r="2.3"/><circle cx="631.2" cy="134.9" r="2.3"/><circle cx="632.2" cy="133.8" r="2.3"/><circle cx="631.5" cy="134.2" r="2.3"/><circle cx="633" cy="132.4" r="2.3"/><circle cx="632.6" cy="131.2" r="2.3"/><circle cx="633.4" cy="129.8" r="2.3"/><circle cx="632.8" cy="129.2" r="2.3"/><circle cx="634.3" cy="128.1" r="2.3"/><circle cx="634.3" cy="127.3" r="2.3"/><circle cx="634.5" cy="126.5" r="2.3"/><circle cx="635.5" cy="126.7" r="2.3"/><circle cx="635.7" cy="125" r="2.3"/><circle cx="636.5" cy="124.6" r="2.3"/><circle cx="637.7" cy="122.8" r="2.3"/><circle cx="638.2" cy="122.2" r="2.3"/><circle cx="639.1" cy="121.5" r="2.3"/><circle cx="638.9" cy="120.9" r="2.3"/><circle cx="640.2" cy="119.9" r="2.3"/><circle cx="641.3" cy="120.7" r="2.3"/><circle cx="642.1" cy="120.8" r="2.3"/><circle cx="643.5" cy="120.4" r="2.3"/><circle cx="643.6" cy="120" r="2.3"/><circle cx="643.1" cy="119.4" r="2.3"/><circle cx="644.4" cy="118.1" r="2.3"/><circle cx="645.2" cy="117.7" r="2.3"/><circle cx="646.3" cy="117.2" r="2.3"/><circle cx="646.3" cy="116.5" r="2.3"/><circle cx="647.1" cy="116.9" r="2.3"/><circle cx="647.1" cy="118.5" r="2.3"/><circle cx="647.5" cy="119.4" r="2.3"/><circle cx="647.6" cy="120.7" r="2.3"/><circle cx="648.9" cy="121.3" r="2.3"/><circle cx="647" cy="123" r="2.3"/><circle cx="647.8" cy="122.3" r="2.3"/><circle cx="647" cy="124.2" r="2.3"/><circle cx="649.1" cy="125.5" r="2.3"/><circle cx="648.4" cy="126.7" r="2.3"/><circle cx="648.7" cy="126.5" r="2.3"/><circle cx="649" cy="127.8" r="2.3"/><circle cx="649.1" cy="128.9" r="2.3"/><circle cx="648" cy="130.4" r="2.3"/><circle cx="649.1" cy="130.9" r="2.3"/><circle cx="649.2" cy="129.5" r="2.3"/><circle cx="649.8" cy="127.6" r="2.3"/><circle cx="650.4" cy="127.7" r="2.3"/><circle cx="649.8" cy="125.2" r="2.3"/><circle cx="650.3" cy="124.8" r="2.3"/><circle cx="650.8" cy="124.4" r="2.3"/><circle cx="651.7" cy="123.9" r="2.3"/><circle cx="650.7" cy="122.7" r="2.3"/><circle cx="649.3" cy="121.2" r="2.3"/><circle cx="650.4" cy="120.7" r="2.3"/><circle cx="651.2" cy="120" r="2.3"/><circle cx="651.5" cy="118.6" r="2.3"/><circle cx="651.2" cy="118" r="2.3"/><circle cx="651.1" cy="117.4" r="2.3"/><circle cx="651" cy="116.4" r="2.3"/><circle cx="651.2" cy="116" r="2.3"/><circle cx="651.2" cy="114.7" r="2.3"/><circle cx="652.7" cy="113.9" r="2.3"/><circle cx="651.6" cy="113.3" r="2.3"/><circle cx="650.9" cy="112.2" r="2.3"/><circle cx="651.9" cy="111.1" r="2.3"/><circle cx="652" cy="110.4" r="2.3"/><circle cx="652.2" cy="108.7" r="2.3"/><circle cx="651.9" cy="107.9" r="2.3"/><circle cx="652.5" cy="107.3" r="2.3"/><circle cx="651.2" cy="106.4" r="2.3"/><circle cx="651.4" cy="106" r="2.3"/><circle cx="651.9" cy="103.3" r="2.3"/><circle cx="651.9" cy="104.2" r="2.3"/><circle cx="652.4" cy="102.4" r="2.3"/><circle cx="652.7" cy="102.1" r="2.3"/><circle cx="653.2" cy="101.4" r="2.3"/><circle cx="652.7" cy="99.6" r="2.3"/><circle cx="652.9" cy="99.2" r="2.3"/><circle cx="653" cy="98.2" r="2.3"/><circle cx="652.6" cy="97.3" r="2.3"/><circle cx="653.5" cy="96.2" r="2.3"/><circle cx="653.7" cy="94.8" r="2.3"/><circle cx="654.1" cy="94.4" r="2.3"/><circle cx="654.3" cy="93.2" r="2.3"/><circle cx="654.6" cy="92.2" r="2.3"/><circle cx="655.5" cy="90.3" r="2.3"/><circle cx="656.6" cy="89.5" r="2.3"/><circle cx="656.5" cy="88.5" r="2.3"/><circle cx="656.1" cy="88.9" r="2.3"/><circle cx="656.7" cy="86.6" r="2.3"/><circle cx="657.9" cy="86.2" r="2.3"/><circle cx="658.4" cy="87.2" r="2.3"/><circle cx="658.8" cy="85.6" r="2.3"/><circle cx="659.8" cy="84.7" r="2.3"/><circle cx="659.9" cy="84.6" r="2.3"/><circle cx="660.5" cy="83.2" r="2.3"/><circle cx="661.1" cy="81.3" r="2.3"/><circle cx="661.7" cy="81" r="2.3"/><circle cx="662.4" cy="80.4" r="2.3"/><circle cx="663.4" cy="78" r="2.3"/><circle cx="662.4" cy="77.7" r="2.3"/><circle cx="662.4" cy="77.2" r="2.3"/><circle cx="663" cy="76.1" r="2.3"/><circle cx="662.3" cy="74.5" r="2.3"/><circle cx="663.3" cy="73.8" r="2.3"/><circle cx="663.2" cy="72.9" r="2.3"/><circle cx="663.4" cy="71.4" r="2.3"/><circle cx="664.5" cy="70.6" r="2.3"/><circle cx="664.1" cy="70.3" r="2.3"/><circle cx="664.3" cy="68.7" r="2.3"/><circle cx="663.3" cy="68.2" r="2.3"/><circle cx="664.1" cy="65.7" r="2.3"/><circle cx="662.6" cy="65.7" r="2.3"/><circle cx="663.9" cy="64.9" r="2.3"/><circle cx="664.4" cy="63.5" r="2.3"/><circle cx="665.7" cy="63.5" r="2.3"/><circle cx="665" cy="62.1" r="2.3"/><circle cx="663.2" cy="61.1" r="2.3"/><circle cx="664.2" cy="60.2" r="2.3"/><circle cx="664.5" cy="59.4" r="2.3"/><circle cx="664.1" cy="57.8" r="2.3"/><circle cx="664.7" cy="56.6" r="2.3"/><circle cx="664.6" cy="56.3" r="2.3"/><circle cx="666" cy="54.9" r="2.3"/><circle cx="665.5" cy="53.4" r="2.3"/><circle cx="664.9" cy="53.2" r="2.3"/><circle cx="665.6" cy="51.4" r="2.3"/><circle cx="665.7" cy="51.1" r="2.3"/><circle cx="666.4" cy="50.5" r="2.3"/><circle cx="666.3" cy="48.8" r="2.3"/><circle cx="666.4" cy="47.5" r="2.3"/><circle cx="666.1" cy="46" r="2.3"/><circle cx="666.1" cy="45.3" r="2.3"/><circle cx="667.1" cy="45.1" r="2.3"/><circle cx="666.9" cy="43.9" r="2.3"/><circle cx="668.2" cy="43.5" r="2.3"/><circle cx="668.3" cy="42.1" r="2.3"/><circle cx="668.6" cy="41.5" r="2.3"/><circle cx="668.3" cy="40.2" r="2.3"/><circle cx="668.2" cy="40.1" r="2.3"/><circle cx="670.3" cy="37.2" r="2.3"/><circle cx="669.9" cy="36.6" r="2.3"/><circle cx="669.5" cy="36.3" r="2.3"/><circle cx="671.4" cy="35" r="2.3"/><circle cx="671.1" cy="35.4" r="2.2"/><circle cx="671.4" cy="35.6" r="2.2"/><circle cx="671.7" cy="37.2" r="2.2"/><circle cx="672.2" cy="38.2" r="2.2"/><circle cx="671.4" cy="38.7" r="2.2"/><circle cx="672.1" cy="39.7" r="2.2"/><circle cx="672.6" cy="40.9" r="2.2"/><circle cx="672.4" cy="41.8" r="2.2"/><circle cx="672.5" cy="42.4" r="2.2"/><circle cx="673.4" cy="43.8" r="2.2"/><circle cx="672.4" cy="44.3" r="2.2"/><circle cx="672.8" cy="45.5" r="2.2"/><circle cx="673" cy="47.5" r="2.2"/><circle cx="673.2" cy="47.8" r="2.2"/><circle cx="673.5" cy="48.9" r="2.2"/><circle cx="673.1" cy="50" r="2.2"/><circle cx="673" cy="51.2" r="2.2"/><circle cx="672.8" cy="51.3" r="2.2"/><circle cx="673.8" cy="52.7" r="2.2"/><circle cx="673.2" cy="54.1" r="2.2"/><circle cx="673.2" cy="54.5" r="2.2"/><circle cx="673.3" cy="55.6" r="2.2"/><circle cx="673.7" cy="56.8" r="2.2"/><circle cx="673.4" cy="58.3" r="2.2"/><circle cx="672.7" cy="58.6" r="2.2"/><circle cx="673.3" cy="60.8" r="2.2"/><circle cx="672.8" cy="61.5" r="2.2"/></g>
<line x1="439.2" y1="267.2" x2="675" y2="107.4" stroke="#ee7b72" stroke-width="3" stroke-linecap="butt"/>
<polyline fill="none" stroke="#3aa94a" stroke-width="3" stroke-linejoin="round" stroke-linecap="round" points="415.5,258.5 438.3,259.1 442.2,258.1 445.7,257.1 448.8,256.2 451.7,255.3 454.4,254.5 456.8,253.7 459.1,252.9 461.2,252.2 463.2,251.4 465.1,250.7 466.9,250.1 468.6,249.4 470.2,248.8 471.8,248.1 473.4,247.5 475,246.8 476.6,246.1 478.2,245.4 479.8,244.7 481.4,244 483,243.3 484.6,242.5 486.2,241.8 487.9,241 489.5,240.2 491.1,239.5 492.7,238.7 494.3,237.9 495.9,237.1 497.5,236.3 499.1,235.4 500.7,234.6 502.3,233.8 503.9,232.9 505.5,232.1 507.2,231.2 508.8,230.4 510.4,229.5 512,228.6 513.6,227.7 515.2,226.8 516.8,225.9 518.4,225 520,224.1 521.6,223.2 523.2,222.3 524.8,221.4 526.4,220.4 528.1,219.5 529.7,218.6 531.3,217.6 532.9,216.7 534.5,215.7 536.1,214.8 537.7,213.8 539.3,212.8 540.9,211.9 542.5,210.9 544.1,209.9 545.7,209 547.4,208 549,207 550.6,206 552.2,205.1 553.8,204.1 555.4,203.1 557,202.1 558.6,201.1 560.2,200.1 561.8,199.1 563.4,198.1 565,197.1 566.7,196.1 568.3,195.1 569.9,194.1 571.5,193.1 573.1,192.1 574.7,191.1 576.3,190.1 577.9,189.1 579.5,188.1 581.1,187 582.7,186 584.3,185 586,184 587.6,183 589.2,182 590.8,181 592.4,179.9 594,178.9 595.6,177.9 597.2,176.9 598.8,175.9 600.4,174.8 602,173.8 603.6,172.8 605.3,171.8 606.9,170.7 608.5,169.7 610.1,168.7 611.7,167.7 613.3,166.6 614.9,165.6 616.5,164.6 618.1,163.6 619.7,162.5 621.3,161.5 622.9,160.5 624.6,159.4 626.2,158.4 627.8,157.4 629.4,156.4 631,155.3 632.6,154.3 634.2,153.3 635.8,152.2 637.4,151.2 639,150.2 640.6,149.2 642.2,148.1 643.9,147.1 645.5,146.1 647.1,145 648.7,144 650.3,143 651.9,141.9 653.5,140.9 655.1,139.9 656.7,138.8 658.3,137.8 659.9,136.8 661.5,135.7 663.2,134.7 664.8,133.7 666.4,132.6 668,131.6 669.6,130.6 671.2,129.6 672.8,128.5 674.4,127.5 674.6,127.1"/>
<line x1="54" y1="23.7" x2="54" y2="267.5" stroke="#222" stroke-width="1"/>
<line x1="53.5" y1="267.5" x2="333" y2="267.5" stroke="#222" stroke-width="1"/>
<line x1="405.5" y1="24.3" x2="405.5" y2="267.5" stroke="#222" stroke-width="1"/>
<line x1="405" y1="267.5" x2="685" y2="267.5" stroke="#222" stroke-width="1"/>
<line x1="56.5" y1="264" x2="56.5" y2="267" stroke="#333" stroke-width="1"/>
<line x1="60.5" y1="264" x2="60.5" y2="267" stroke="#333" stroke-width="1"/>
<line x1="64.5" y1="261.5" x2="64.5" y2="267" stroke="#333" stroke-width="1"/>
<line x1="87.5" y1="264" x2="87.5" y2="267" stroke="#333" stroke-width="1"/>
<line x1="101.5" y1="264" x2="101.5" y2="267" stroke="#333" stroke-width="1"/>
<line x1="111.5" y1="264" x2="111.5" y2="267" stroke="#333" stroke-width="1"/>
<line x1="118.5" y1="264" x2="118.5" y2="267" stroke="#333" stroke-width="1"/>
<line x1="125.5" y1="264" x2="125.5" y2="267" stroke="#333" stroke-width="1"/>
<line x1="130.5" y1="264" x2="130.5" y2="267" stroke="#333" stroke-width="1"/>
<line x1="134.5" y1="264" x2="134.5" y2="267" stroke="#333" stroke-width="1"/>
<line x1="138.5" y1="264" x2="138.5" y2="267" stroke="#333" stroke-width="1"/>
<line x1="142.5" y1="261.5" x2="142.5" y2="267" stroke="#333" stroke-width="1"/>
<line x1="166.5" y1="264" x2="166.5" y2="267" stroke="#333" stroke-width="1"/>
<line x1="179.5" y1="264" x2="179.5" y2="267" stroke="#333" stroke-width="1"/>
<line x1="189.5" y1="264" x2="189.5" y2="267" stroke="#333" stroke-width="1"/>
<line x1="197.5" y1="264" x2="197.5" y2="267" stroke="#333" stroke-width="1"/>
<line x1="203.5" y1="264" x2="203.5" y2="267" stroke="#333" stroke-width="1"/>
<line x1="208.5" y1="264" x2="208.5" y2="267" stroke="#333" stroke-width="1"/>
<line x1="213.5" y1="264" x2="213.5" y2="267" stroke="#333" stroke-width="1"/>
<line x1="217.5" y1="264" x2="217.5" y2="267" stroke="#333" stroke-width="1"/>
<line x1="220.5" y1="261.5" x2="220.5" y2="267" stroke="#333" stroke-width="1"/>
<line x1="244.5" y1="264" x2="244.5" y2="267" stroke="#333" stroke-width="1"/>
<line x1="258.5" y1="264" x2="258.5" y2="267" stroke="#333" stroke-width="1"/>
<line x1="268.5" y1="264" x2="268.5" y2="267" stroke="#333" stroke-width="1"/>
<line x1="275.5" y1="264" x2="275.5" y2="267" stroke="#333" stroke-width="1"/>
<line x1="281.5" y1="264" x2="281.5" y2="267" stroke="#333" stroke-width="1"/>
<line x1="287.5" y1="264" x2="287.5" y2="267" stroke="#333" stroke-width="1"/>
<line x1="291.5" y1="264" x2="291.5" y2="267" stroke="#333" stroke-width="1"/>
<line x1="295.5" y1="264" x2="295.5" y2="267" stroke="#333" stroke-width="1"/>
<line x1="299.5" y1="261.5" x2="299.5" y2="267" stroke="#333" stroke-width="1"/>
<line x1="322.5" y1="264" x2="322.5" y2="267" stroke="#333" stroke-width="1"/>
<line x1="408.5" y1="264" x2="408.5" y2="267" stroke="#333" stroke-width="1"/>
<line x1="412.5" y1="264" x2="412.5" y2="267" stroke="#333" stroke-width="1"/>
<line x1="415.5" y1="261.5" x2="415.5" y2="267" stroke="#333" stroke-width="1"/>
<line x1="438.5" y1="264" x2="438.5" y2="267" stroke="#333" stroke-width="1"/>
<line x1="451.5" y1="264" x2="451.5" y2="267" stroke="#333" stroke-width="1"/>
<line x1="461.5" y1="264" x2="461.5" y2="267" stroke="#333" stroke-width="1"/>
<line x1="468.5" y1="264" x2="468.5" y2="267" stroke="#333" stroke-width="1"/>
<line x1="474.5" y1="264" x2="474.5" y2="267" stroke="#333" stroke-width="1"/>
<line x1="479.5" y1="264" x2="479.5" y2="267" stroke="#333" stroke-width="1"/>
<line x1="484.5" y1="264" x2="484.5" y2="267" stroke="#333" stroke-width="1"/>
<line x1="487.5" y1="264" x2="487.5" y2="267" stroke="#333" stroke-width="1"/>
<line x1="491.5" y1="261.5" x2="491.5" y2="267" stroke="#333" stroke-width="1"/>
<line x1="514.5" y1="264" x2="514.5" y2="267" stroke="#333" stroke-width="1"/>
<line x1="527.5" y1="264" x2="527.5" y2="267" stroke="#333" stroke-width="1"/>
<line x1="537.5" y1="264" x2="537.5" y2="267" stroke="#333" stroke-width="1"/>
<line x1="544.5" y1="264" x2="544.5" y2="267" stroke="#333" stroke-width="1"/>
<line x1="550.5" y1="264" x2="550.5" y2="267" stroke="#333" stroke-width="1"/>
<line x1="555.5" y1="264" x2="555.5" y2="267" stroke="#333" stroke-width="1"/>
<line x1="559.5" y1="264" x2="559.5" y2="267" stroke="#333" stroke-width="1"/>
<line x1="563.5" y1="264" x2="563.5" y2="267" stroke="#333" stroke-width="1"/>
<line x1="567.5" y1="261.5" x2="567.5" y2="267" stroke="#333" stroke-width="1"/>
<line x1="590.5" y1="264" x2="590.5" y2="267" stroke="#333" stroke-width="1"/>
<line x1="603.5" y1="264" x2="603.5" y2="267" stroke="#333" stroke-width="1"/>
<line x1="612.5" y1="264" x2="612.5" y2="267" stroke="#333" stroke-width="1"/>
<line x1="620.5" y1="264" x2="620.5" y2="267" stroke="#333" stroke-width="1"/>
<line x1="626.5" y1="264" x2="626.5" y2="267" stroke="#333" stroke-width="1"/>
<line x1="631.5" y1="264" x2="631.5" y2="267" stroke="#333" stroke-width="1"/>
<line x1="635.5" y1="264" x2="635.5" y2="267" stroke="#333" stroke-width="1"/>
<line x1="639.5" y1="264" x2="639.5" y2="267" stroke="#333" stroke-width="1"/>
<line x1="643.5" y1="261.5" x2="643.5" y2="267" stroke="#333" stroke-width="1"/>
<line x1="666.5" y1="264" x2="666.5" y2="267" stroke="#333" stroke-width="1"/>
<line x1="679.5" y1="264" x2="679.5" y2="267" stroke="#333" stroke-width="1"/>
<line x1="54" y1="258.5" x2="57.3" y2="258.5" stroke="#333" stroke-width="1"/>
<line x1="54" y1="248.5" x2="57.3" y2="248.5" stroke="#333" stroke-width="1"/>
<line x1="54" y1="240.5" x2="57.3" y2="240.5" stroke="#333" stroke-width="1"/>
<line x1="54" y1="234.5" x2="57.3" y2="234.5" stroke="#333" stroke-width="1"/>
<line x1="54" y1="228.5" x2="57.3" y2="228.5" stroke="#333" stroke-width="1"/>
<line x1="54" y1="224.5" x2="57.3" y2="224.5" stroke="#333" stroke-width="1"/>
<line x1="54" y1="220.5" x2="57.3" y2="220.5" stroke="#333" stroke-width="1"/>
<line x1="54" y1="216.5" x2="60" y2="216.5" stroke="#333" stroke-width="1"/>
<line x1="54" y1="192.5" x2="57.3" y2="192.5" stroke="#333" stroke-width="1"/>
<line x1="54" y1="178.5" x2="57.3" y2="178.5" stroke="#333" stroke-width="1"/>
<line x1="54" y1="168.5" x2="57.3" y2="168.5" stroke="#333" stroke-width="1"/>
<line x1="54" y1="160.5" x2="57.3" y2="160.5" stroke="#333" stroke-width="1"/>
<line x1="54" y1="154.5" x2="57.3" y2="154.5" stroke="#333" stroke-width="1"/>
<line x1="54" y1="149.5" x2="57.3" y2="149.5" stroke="#333" stroke-width="1"/>
<line x1="54" y1="144.5" x2="57.3" y2="144.5" stroke="#333" stroke-width="1"/>
<line x1="54" y1="140.5" x2="57.3" y2="140.5" stroke="#333" stroke-width="1"/>
<line x1="54" y1="136.5" x2="60" y2="136.5" stroke="#333" stroke-width="1"/>
<line x1="54" y1="113.5" x2="57.3" y2="113.5" stroke="#333" stroke-width="1"/>
<line x1="54" y1="98.5" x2="57.3" y2="98.5" stroke="#333" stroke-width="1"/>
<line x1="54" y1="89.5" x2="57.3" y2="89.5" stroke="#333" stroke-width="1"/>
<line x1="54" y1="81.5" x2="57.3" y2="81.5" stroke="#333" stroke-width="1"/>
<line x1="54" y1="75.5" x2="57.3" y2="75.5" stroke="#333" stroke-width="1"/>
<line x1="54" y1="69.5" x2="57.3" y2="69.5" stroke="#333" stroke-width="1"/>
<line x1="54" y1="65.5" x2="57.3" y2="65.5" stroke="#333" stroke-width="1"/>
<line x1="54" y1="61.5" x2="57.3" y2="61.5" stroke="#333" stroke-width="1"/>
<line x1="54" y1="57.5" x2="60" y2="57.5" stroke="#333" stroke-width="1"/>
<line x1="54" y1="33.5" x2="57.3" y2="33.5" stroke="#333" stroke-width="1"/>
<line x1="405.5" y1="262.5" x2="408.8" y2="262.5" stroke="#333" stroke-width="1"/>
<line x1="405.5" y1="257.5" x2="408.8" y2="257.5" stroke="#333" stroke-width="1"/>
<line x1="405.5" y1="253.5" x2="408.8" y2="253.5" stroke="#333" stroke-width="1"/>
<line x1="405.5" y1="250.5" x2="408.8" y2="250.5" stroke="#333" stroke-width="1"/>
<line x1="405.5" y1="247.5" x2="408.8" y2="247.5" stroke="#333" stroke-width="1"/>
<line x1="405.5" y1="245.5" x2="411.5" y2="245.5" stroke="#333" stroke-width="1"/>
<line x1="405.5" y1="227.5" x2="408.8" y2="227.5" stroke="#333" stroke-width="1"/>
<line x1="405.5" y1="217.5" x2="408.8" y2="217.5" stroke="#333" stroke-width="1"/>
<line x1="405.5" y1="210.5" x2="408.8" y2="210.5" stroke="#333" stroke-width="1"/>
<line x1="405.5" y1="204.5" x2="408.8" y2="204.5" stroke="#333" stroke-width="1"/>
<line x1="405.5" y1="200.5" x2="408.8" y2="200.5" stroke="#333" stroke-width="1"/>
<line x1="405.5" y1="196.5" x2="408.8" y2="196.5" stroke="#333" stroke-width="1"/>
<line x1="405.5" y1="193.5" x2="408.8" y2="193.5" stroke="#333" stroke-width="1"/>
<line x1="405.5" y1="190.5" x2="408.8" y2="190.5" stroke="#333" stroke-width="1"/>
<line x1="405.5" y1="187.5" x2="411.5" y2="187.5" stroke="#333" stroke-width="1"/>
<line x1="405.5" y1="170.5" x2="408.8" y2="170.5" stroke="#333" stroke-width="1"/>
<line x1="405.5" y1="160.5" x2="408.8" y2="160.5" stroke="#333" stroke-width="1"/>
<line x1="405.5" y1="152.5" x2="408.8" y2="152.5" stroke="#333" stroke-width="1"/>
<line x1="405.5" y1="147.5" x2="408.8" y2="147.5" stroke="#333" stroke-width="1"/>
<line x1="405.5" y1="142.5" x2="408.8" y2="142.5" stroke="#333" stroke-width="1"/>
<line x1="405.5" y1="138.5" x2="408.8" y2="138.5" stroke="#333" stroke-width="1"/>
<line x1="405.5" y1="135.5" x2="408.8" y2="135.5" stroke="#333" stroke-width="1"/>
<line x1="405.5" y1="132.5" x2="408.8" y2="132.5" stroke="#333" stroke-width="1"/>
<line x1="405.5" y1="130.5" x2="411.5" y2="130.5" stroke="#333" stroke-width="1"/>
<line x1="405.5" y1="112.5" x2="408.8" y2="112.5" stroke="#333" stroke-width="1"/>
<line x1="405.5" y1="102.5" x2="408.8" y2="102.5" stroke="#333" stroke-width="1"/>
<line x1="405.5" y1="95.5" x2="408.8" y2="95.5" stroke="#333" stroke-width="1"/>
<line x1="405.5" y1="89.5" x2="408.8" y2="89.5" stroke="#333" stroke-width="1"/>
<line x1="405.5" y1="85.5" x2="408.8" y2="85.5" stroke="#333" stroke-width="1"/>
<line x1="405.5" y1="81.5" x2="408.8" y2="81.5" stroke="#333" stroke-width="1"/>
<line x1="405.5" y1="78.5" x2="408.8" y2="78.5" stroke="#333" stroke-width="1"/>
<line x1="405.5" y1="75.5" x2="408.8" y2="75.5" stroke="#333" stroke-width="1"/>
<line x1="405.5" y1="72.5" x2="411.5" y2="72.5" stroke="#333" stroke-width="1"/>
<line x1="405.5" y1="55.5" x2="408.8" y2="55.5" stroke="#333" stroke-width="1"/>
<line x1="405.5" y1="45.5" x2="408.8" y2="45.5" stroke="#333" stroke-width="1"/>
<line x1="405.5" y1="37.5" x2="408.8" y2="37.5" stroke="#333" stroke-width="1"/>
<line x1="405.5" y1="32.5" x2="408.8" y2="32.5" stroke="#333" stroke-width="1"/>
<line x1="405.5" y1="27.5" x2="408.8" y2="27.5" stroke="#333" stroke-width="1"/>
<text transform="translate(64 282.7) scale(1 1.1)" font-size="9.6" text-anchor="middle" font-family="Liberation Sans, sans-serif" stroke="#111" stroke-width="0.22" fill="#111">1</text>
<text transform="translate(415.5 282.7) scale(1 1.1)" font-size="9.6" text-anchor="middle" font-family="Liberation Sans, sans-serif" stroke="#111" stroke-width="0.22" fill="#111">1</text>
<text transform="translate(142.4 282.7) scale(1 1.1)" font-size="9.6" text-anchor="middle" font-family="Liberation Sans, sans-serif" stroke="#111" stroke-width="0.22" fill="#111">10</text>
<text transform="translate(491.4 282.7) scale(1 1.1)" font-size="9.6" text-anchor="middle" font-family="Liberation Sans, sans-serif" stroke="#111" stroke-width="0.22" fill="#111">10</text>
<text transform="translate(220.8 282.7) scale(1 1.1)" font-size="9.6" text-anchor="middle" font-family="Liberation Sans, sans-serif" stroke="#111" stroke-width="0.22" fill="#111">100</text>
<text transform="translate(567.3 282.7) scale(1 1.1)" font-size="9.6" text-anchor="middle" font-family="Liberation Sans, sans-serif" stroke="#111" stroke-width="0.22" fill="#111">100</text>
<text transform="translate(299.2 282.7) scale(1 1.1)" font-size="9.6" text-anchor="middle" font-family="Liberation Sans, sans-serif" stroke="#111" stroke-width="0.22" fill="#111">1000</text>
<text transform="translate(643.2 282.7) scale(1 1.1)" font-size="9.6" text-anchor="middle" font-family="Liberation Sans, sans-serif" stroke="#111" stroke-width="0.22" fill="#111">1000</text>
<text transform="translate(46.3 216.5) rotate(-90) scale(1 1.1)" x="0" y="0" font-size="9.6" text-anchor="middle" font-family="Liberation Sans, sans-serif" stroke="#111" stroke-width="0.22" fill="#111">1</text>
<text transform="translate(46.3 136.95) rotate(-90) scale(1 1.1)" x="0" y="0" font-size="9.6" text-anchor="middle" font-family="Liberation Sans, sans-serif" stroke="#111" stroke-width="0.22" fill="#111">10</text>
<text transform="translate(46.3 57.4) rotate(-90) scale(1 1.1)" x="0" y="0" font-size="9.6" text-anchor="middle" font-family="Liberation Sans, sans-serif" stroke="#111" stroke-width="0.22" fill="#111">100</text>
<text transform="translate(398.2 245) rotate(-90) scale(1 1.1)" x="0" y="0" font-size="9.6" text-anchor="middle" font-family="Liberation Sans, sans-serif" stroke="#111" stroke-width="0.22" fill="#111">1</text>
<text transform="translate(398.2 187.5) rotate(-90) scale(1 1.1)" x="0" y="0" font-size="9.6" text-anchor="middle" font-family="Liberation Sans, sans-serif" stroke="#111" stroke-width="0.22" fill="#111">10</text>
<text transform="translate(398.2 130) rotate(-90) scale(1 1.1)" x="0" y="0" font-size="9.6" text-anchor="middle" font-family="Liberation Sans, sans-serif" stroke="#111" stroke-width="0.22" fill="#111">100</text>
<text transform="translate(398.2 72.5) rotate(-90) scale(1 1.1)" x="0" y="0" font-size="9.6" text-anchor="middle" font-family="Liberation Sans, sans-serif" stroke="#111" stroke-width="0.22" fill="#111">1000</text>
<text transform="translate(19.9 207.6) rotate(-90) scale(1 1.1)" font-size="9.2" font-family="Liberation Sans, sans-serif" stroke="#111" stroke-width="0.22" fill="#111" textLength="93.8" lengthAdjust="spacingAndGlyphs">APS Attachment Rate,</text>
<text transform="translate(19.9 108.1) rotate(-90) scale(1 1.1)" font-size="9.2" font-family="Liberation Sans, sans-serif" stroke="#111" stroke-width="0.22" fill="#111">A</text>
<path d="M11.7 102.3L8.6 104.7L11.7 107.1" fill="none" stroke="#111" stroke-width="1.05"/>
<text transform="translate(20.1 101.5) rotate(-90)" font-size="12.3" font-family="Liberation Sans, sans-serif" stroke="#111" stroke-width="0.22" fill="#111">(</text>
<text transform="translate(19.9 97.4) rotate(-90) scale(1 1.1)" font-size="9.2" font-family="Liberation Sans, sans-serif" stroke="#111" stroke-width="0.22" fill="#111">k</text>
<text transform="translate(20.1 92.1) rotate(-90)" font-size="12.3" font-family="Liberation Sans, sans-serif" stroke="#111" stroke-width="0.22" fill="#111">)</text>
<text transform="translate(371.7 207.6) rotate(-90) scale(1 1.1)" font-size="9.2" font-family="Liberation Sans, sans-serif" stroke="#111" stroke-width="0.22" fill="#111" textLength="93.8" lengthAdjust="spacingAndGlyphs">APS Attachment Rate,</text>
<text transform="translate(371.7 108.1) rotate(-90) scale(1 1.1)" font-size="9.2" font-family="Liberation Sans, sans-serif" stroke="#111" stroke-width="0.22" fill="#111">A</text>
<path d="M363.5 102.3L360.4 104.7L363.5 107.1" fill="none" stroke="#111" stroke-width="1.05"/>
<text transform="translate(371.9 101.5) rotate(-90)" font-size="12.3" font-family="Liberation Sans, sans-serif" stroke="#111" stroke-width="0.22" fill="#111">(</text>
<text transform="translate(371.7 97.4) rotate(-90) scale(1 1.1)" font-size="9.2" font-family="Liberation Sans, sans-serif" stroke="#111" stroke-width="0.22" fill="#111">k</text>
<text transform="translate(371.9 92.1) rotate(-90)" font-size="12.3" font-family="Liberation Sans, sans-serif" stroke="#111" stroke-width="0.22" fill="#111">)</text>
<text transform="translate(135.7 304.0) scale(1 1.1)" font-size="9.5" font-family="Liberation Sans, sans-serif" stroke="#111" stroke-width="0.22" fill="#111" textLength="86.6" lengthAdjust="spacingAndGlyphs">Number of Citations,</text>
<text transform="translate(226.8 304.0) scale(1 1.1)" font-size="9.5" font-family="Liberation Sans, sans-serif" stroke="#111" stroke-width="0.22" fill="#111">k</text>
<text x="234.6" y="304.0" font-size="7.6" font-family="Liberation Sans, sans-serif" stroke="#111" stroke-width="0.22" fill="#111">+</text>
<text transform="translate(241.7 304.0) scale(1 1.1)" font-size="9.5" font-family="Liberation Sans, sans-serif" stroke="#111" stroke-width="0.22" fill="#111">1</text>
<text transform="translate(487.3 304.0) scale(1 1.1)" font-size="9.5" font-family="Liberation Sans, sans-serif" stroke="#111" stroke-width="0.22" fill="#111" textLength="86.6" lengthAdjust="spacingAndGlyphs">Number of Citations,</text>
<text transform="translate(578.4 304.0) scale(1 1.1)" font-size="9.5" font-family="Liberation Sans, sans-serif" stroke="#111" stroke-width="0.22" fill="#111">k</text>
<text x="586.2" y="304.0" font-size="7.6" font-family="Liberation Sans, sans-serif" stroke="#111" stroke-width="0.22" fill="#111">+</text>
<text transform="translate(593.3 304.0) scale(1 1.1)" font-size="9.5" font-family="Liberation Sans, sans-serif" stroke="#111" stroke-width="0.22" fill="#111">1</text>
<text x="-0.4" y="13.8" font-size="19.4" font-family="Liberation Sans, sans-serif" stroke="#111" stroke-width="0.22" fill="#111">A</text>
<text transform="translate(351.0 13.8) scale(1.08 1)" x="0" y="0" font-size="19.8" font-family="Liberation Sans, sans-serif" stroke="#111" stroke-width="0.22" fill="#111">B</text>
<rect x="67.8" y="36.5" width="126.5" height="46.5" fill="#dcdcdc"/>
<line x1="75.2" y1="45.8" x2="89" y2="45.8" stroke="#6584c4" stroke-width="2.5" stroke-linecap="round"/>
<text x="96" y="47.9" font-size="7.5" font-family="Liberation Sans, sans-serif" stroke="#111" stroke-width="0.06" fill="#111">T</text>
<text x="101.1" y="49.6" font-size="5.2" font-family="Liberation Sans, sans-serif" stroke="#111" stroke-width="0.06" fill="#111">1</text>
<text x="106.6" y="47.9" font-size="7.5" font-family="Liberation Sans, sans-serif" stroke="#111" stroke-width="0.06" fill="#111" textLength="46.6" lengthAdjust="spacingAndGlyphs">= 1990–99 &amp;</text>
<text x="155" y="47.9" font-size="7.5" font-family="Liberation Sans, sans-serif" stroke="#111" stroke-width="0.06" fill="#111">T</text>
<text x="159.9" y="49.6" font-size="5.2" font-family="Liberation Sans, sans-serif" stroke="#111" stroke-width="0.06" fill="#111">2</text>
<text x="165.6" y="47.9" font-size="7.5" font-family="Liberation Sans, sans-serif" stroke="#111" stroke-width="0.06" fill="#111" textLength="25" lengthAdjust="spacingAndGlyphs">= 2000</text>
<line x1="75.2" y1="55.13" x2="89" y2="55.13" stroke="#3aa651" stroke-width="2.5" stroke-linecap="round"/>
<text x="96" y="57" font-size="7.5" font-family="Liberation Sans, sans-serif" stroke="#111" stroke-width="0.06" fill="#111">T</text>
<text x="101.1" y="58.7" font-size="5.2" font-family="Liberation Sans, sans-serif" stroke="#111" stroke-width="0.06" fill="#111">1</text>
<text x="106.6" y="57" font-size="7.5" font-family="Liberation Sans, sans-serif" stroke="#111" stroke-width="0.06" fill="#111" textLength="46.6" lengthAdjust="spacingAndGlyphs">= 1980–99 &amp;</text>
<text x="155" y="57" font-size="7.5" font-family="Liberation Sans, sans-serif" stroke="#111" stroke-width="0.06" fill="#111">T</text>
<text x="159.9" y="58.7" font-size="5.2" font-family="Liberation Sans, sans-serif" stroke="#111" stroke-width="0.06" fill="#111">2</text>
<text x="165.6" y="57" font-size="7.5" font-family="Liberation Sans, sans-serif" stroke="#111" stroke-width="0.06" fill="#111" textLength="25" lengthAdjust="spacingAndGlyphs">= 2000</text>
<line x1="75.2" y1="64.46" x2="89" y2="64.46" stroke="#ec7672" stroke-width="2.5" stroke-linecap="round"/>
<text x="96" y="66.1" font-size="7.5" font-family="Liberation Sans, sans-serif" stroke="#111" stroke-width="0.06" fill="#111">T</text>
<text x="101.1" y="67.8" font-size="5.2" font-family="Liberation Sans, sans-serif" stroke="#111" stroke-width="0.06" fill="#111">1</text>
<text x="106.6" y="66.1" font-size="7.5" font-family="Liberation Sans, sans-serif" stroke="#111" stroke-width="0.06" fill="#111" textLength="46.6" lengthAdjust="spacingAndGlyphs">= 1970–99 &amp;</text>
<text x="155" y="66.1" font-size="7.5" font-family="Liberation Sans, sans-serif" stroke="#111" stroke-width="0.06" fill="#111">T</text>
<text x="159.9" y="67.8" font-size="5.2" font-family="Liberation Sans, sans-serif" stroke="#111" stroke-width="0.06" fill="#111">2</text>
<text x="165.6" y="66.1" font-size="7.5" font-family="Liberation Sans, sans-serif" stroke="#111" stroke-width="0.06" fill="#111" textLength="25" lengthAdjust="spacingAndGlyphs">= 2000</text>
<line x1="75.2" y1="73.79" x2="89" y2="73.79" stroke="#222222" stroke-width="2.5" stroke-linecap="round"/>
<text x="96" y="75.2" font-size="7.5" font-family="Liberation Sans, sans-serif" stroke="#111" stroke-width="0.06" fill="#111">T</text>
<text x="101.1" y="76.9" font-size="5.2" font-family="Liberation Sans, sans-serif" stroke="#111" stroke-width="0.06" fill="#111">1</text>
<text x="106.6" y="75.2" font-size="7.5" font-family="Liberation Sans, sans-serif" stroke="#111" stroke-width="0.06" fill="#111" textLength="46.6" lengthAdjust="spacingAndGlyphs">= 1893–99 &amp;</text>
<text x="155" y="75.2" font-size="7.5" font-family="Liberation Sans, sans-serif" stroke="#111" stroke-width="0.06" fill="#111">T</text>
<text x="159.9" y="76.9" font-size="5.2" font-family="Liberation Sans, sans-serif" stroke="#111" stroke-width="0.06" fill="#111">2</text>
<text x="165.6" y="75.2" font-size="7.5" font-family="Liberation Sans, sans-serif" stroke="#111" stroke-width="0.06" fill="#111" textLength="25" lengthAdjust="spacingAndGlyphs">= 2000</text>
<rect x="413.6" y="30.7" width="189.9" height="34.4" fill="#dcdcdc"/>
<line x1="422.6" y1="42.6" x2="439.6" y2="42.6" stroke="#ee7b72" stroke-width="3.2" stroke-linecap="round"/>
<line x1="422.6" y1="54.4" x2="439.6" y2="54.4" stroke="#3aa94a" stroke-width="3.2" stroke-linecap="round"/>
<text x="448.8" y="44.8" font-size="9.2" font-family="Liberation Sans, sans-serif" stroke="#111" stroke-width="0.1" fill="#111" textLength="78.6" lengthAdjust="spacingAndGlyphs">Krapivsky’s Model</text>
<text x="533.2" y="44.8" font-size="9.2" font-family="Liberation Sans, sans-serif" stroke="#111" stroke-width="0.1" fill="#111">(</text>
<text x="538.6" y="44.8" font-size="9.2" font-family="Liberation Sans, sans-serif" stroke="#111" stroke-width="0.1" fill="#111" textLength="16.2" lengthAdjust="spacingAndGlyphs">AIC</text>
<text x="556.9" y="44.8" font-size="9.2" font-family="Liberation Sans, sans-serif" stroke="#111" stroke-width="0.1" fill="#111">=</text>
<text x="564.6" y="44.8" font-size="9.2" font-family="Liberation Sans, sans-serif" stroke="#111" stroke-width="0.1" fill="#111" textLength="27.4" lengthAdjust="spacingAndGlyphs">−4174</text>
<text x="594.3" y="44.8" font-size="9.2" font-family="Liberation Sans, sans-serif" stroke="#111" stroke-width="0.1" fill="#111">)</text>
<text x="448.8" y="56.5" font-size="9.2" font-family="Liberation Sans, sans-serif" stroke="#111" stroke-width="0.1" fill="#111" textLength="68.8" lengthAdjust="spacingAndGlyphs">Redner’s Model</text>
<text x="522.4" y="56.5" font-size="9.2" font-family="Liberation Sans, sans-serif" stroke="#111" stroke-width="0.1" fill="#111">(</text>
<text x="528.7" y="56.5" font-size="9.2" font-family="Liberation Sans, sans-serif" stroke="#111" stroke-width="0.1" fill="#111" textLength="16.2" lengthAdjust="spacingAndGlyphs">AIC</text>
<text x="547" y="56.5" font-size="9.2" font-family="Liberation Sans, sans-serif" stroke="#111" stroke-width="0.1" fill="#111">=</text>
<text x="554.6" y="56.5" font-size="9.2" font-family="Liberation Sans, sans-serif" stroke="#111" stroke-width="0.1" fill="#111" textLength="33" lengthAdjust="spacingAndGlyphs">−15056</text>
<text x="589.6" y="56.5" font-size="9.2" font-family="Liberation Sans, sans-serif" stroke="#111" stroke-width="0.1" fill="#111">)</text>
</svg>
</body></html>
